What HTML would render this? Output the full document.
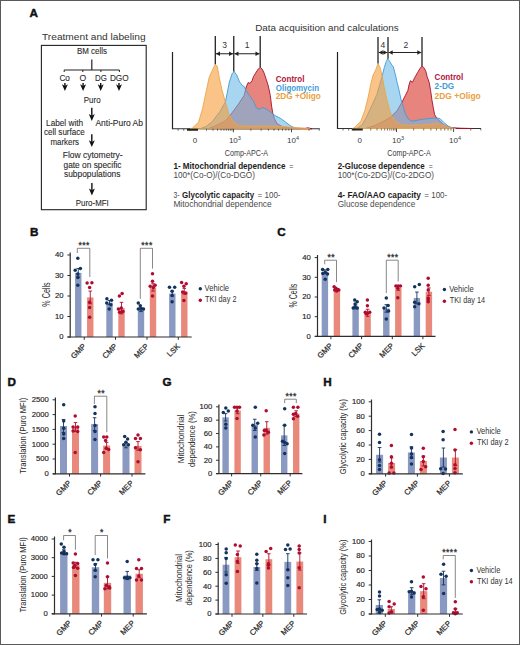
<!DOCTYPE html>
<html><head><meta charset="utf-8"><style>
html,body{margin:0;padding:0;background:#fff;}
svg{display:block;font-family:"Liberation Sans", sans-serif;}
</style></head><body>
<svg width="520" height="645" viewBox="0 0 520 645">
<rect x="0" y="0" width="520" height="645" fill="#fff"/>
<text x="29.5" y="16.7" font-size="11.7" text-anchor="start" font-weight="bold" fill="#111" stroke="#111" stroke-width="0.45">A</text>
<text x="93.8" y="39.7" font-size="9.4" text-anchor="middle" font-weight="normal" fill="#333" textLength="103.5" lengthAdjust="spacingAndGlyphs" >Treatment and labeling</text>
<rect x="41.4" y="45.4" width="104.8" height="164.3" fill="none" stroke="#222" stroke-width="1.1"/>
<text x="92" y="54.4" font-size="8.6" text-anchor="middle" font-weight="normal" fill="#2a2a2a" textLength="30" lengthAdjust="spacingAndGlyphs"  stroke="#2a2a2a" stroke-width="0.1">BM cells</text>
<line x1="91.8" y1="59.5" x2="91.8" y2="70" stroke="#222" stroke-width="1.2" />
<line x1="64.2" y1="70" x2="119.4" y2="70" stroke="#222" stroke-width="1.2" />
<line x1="64.2" y1="70" x2="64.2" y2="72" stroke="#222" stroke-width="1.0" />
<line x1="82.8" y1="70" x2="82.8" y2="72" stroke="#222" stroke-width="1.0" />
<line x1="100.9" y1="70" x2="100.9" y2="72" stroke="#222" stroke-width="1.0" />
<line x1="119.4" y1="70" x2="119.4" y2="72" stroke="#222" stroke-width="1.0" />
<text x="64.7" y="81" font-size="8.6" text-anchor="middle" font-weight="normal" fill="#2a2a2a" textLength="10.5" lengthAdjust="spacingAndGlyphs"  stroke="#2a2a2a" stroke-width="0.1">Co</text>
<text x="82.8" y="81" font-size="8.6" text-anchor="middle" font-weight="normal" fill="#2a2a2a"  stroke="#2a2a2a" stroke-width="0.1">O</text>
<text x="101" y="81" font-size="8.6" text-anchor="middle" font-weight="normal" fill="#2a2a2a" textLength="11.8" lengthAdjust="spacingAndGlyphs"  stroke="#2a2a2a" stroke-width="0.1">DG</text>
<text x="119.3" y="81" font-size="8.6" text-anchor="middle" font-weight="normal" fill="#2a2a2a" textLength="18.8" lengthAdjust="spacingAndGlyphs"  stroke="#2a2a2a" stroke-width="0.1">DGO</text>
<line x1="64.9" y1="83" x2="64.9" y2="88.1" stroke="#111" stroke-width="1.4" />
<path d="M61.90,84.30 L64.90,91.10 L67.90,84.30 L64.90,85.90 Z" fill="#111"/>
<line x1="83.1" y1="83" x2="83.1" y2="88.1" stroke="#111" stroke-width="1.4" />
<path d="M80.10,84.30 L83.10,91.10 L86.10,84.30 L83.10,85.90 Z" fill="#111"/>
<line x1="100.7" y1="83" x2="100.7" y2="88.1" stroke="#111" stroke-width="1.4" />
<path d="M97.70,84.30 L100.70,91.10 L103.70,84.30 L100.70,85.90 Z" fill="#111"/>
<line x1="119.0" y1="83" x2="119.0" y2="88.1" stroke="#111" stroke-width="1.4" />
<path d="M116.00,84.30 L119.00,91.10 L122.00,84.30 L119.00,85.90 Z" fill="#111"/>
<text x="92.2" y="102.6" font-size="8.6" text-anchor="middle" font-weight="normal" fill="#2a2a2a" textLength="16.8" lengthAdjust="spacingAndGlyphs"  stroke="#2a2a2a" stroke-width="0.1">Puro</text>
<line x1="91.8" y1="107.8" x2="91.8" y2="117.9" stroke="#111" stroke-width="1.4" />
<path d="M88.80,114.10 L91.80,120.90 L94.80,114.10 L91.80,115.70 Z" fill="#111"/>
<text x="64.6" y="125.6" font-size="8.6" text-anchor="middle" font-weight="normal" fill="#2a2a2a" textLength="37" lengthAdjust="spacingAndGlyphs"  stroke="#2a2a2a" stroke-width="0.1">Label with</text>
<text x="64.4" y="135.3" font-size="8.6" text-anchor="middle" font-weight="normal" fill="#2a2a2a" textLength="40.8" lengthAdjust="spacingAndGlyphs"  stroke="#2a2a2a" stroke-width="0.1">cell surface</text>
<text x="64.7" y="144.7" font-size="8.6" text-anchor="middle" font-weight="normal" fill="#2a2a2a" textLength="28.6" lengthAdjust="spacingAndGlyphs"  stroke="#2a2a2a" stroke-width="0.1">markers</text>
<text x="119.2" y="125.6" font-size="8.6" text-anchor="middle" font-weight="normal" fill="#2a2a2a" textLength="47.5" lengthAdjust="spacingAndGlyphs"  stroke="#2a2a2a" stroke-width="0.1">Anti-Puro Ab</text>
<line x1="91.8" y1="134.3" x2="91.8" y2="144.1" stroke="#111" stroke-width="1.4" />
<path d="M88.80,140.30 L91.80,147.10 L94.80,140.30 L91.80,141.90 Z" fill="#111"/>
<text x="92.7" y="158" font-size="8.6" text-anchor="middle" font-weight="normal" fill="#2a2a2a" textLength="60" lengthAdjust="spacingAndGlyphs"  stroke="#2a2a2a" stroke-width="0.1">Flow cytometry-</text>
<text x="92.5" y="167.7" font-size="8.6" text-anchor="middle" font-weight="normal" fill="#2a2a2a" textLength="58" lengthAdjust="spacingAndGlyphs"  stroke="#2a2a2a" stroke-width="0.1">gate on specific</text>
<text x="92.2" y="177" font-size="8.6" text-anchor="middle" font-weight="normal" fill="#2a2a2a" textLength="56.5" lengthAdjust="spacingAndGlyphs"  stroke="#2a2a2a" stroke-width="0.1">subpopulations</text>
<line x1="91.9" y1="183" x2="91.9" y2="192.4" stroke="#111" stroke-width="1.4" />
<path d="M88.90,188.60 L91.90,195.40 L94.90,188.60 L91.90,190.20 Z" fill="#111"/>
<text x="92.3" y="205.7" font-size="8.6" text-anchor="middle" font-weight="normal" fill="#2a2a2a" textLength="33" lengthAdjust="spacingAndGlyphs"  stroke="#2a2a2a" stroke-width="0.1">Puro-MFI</text>
<text x="327.0" y="31.1" font-size="9.4" text-anchor="middle" font-weight="normal" fill="#333" textLength="143.5" lengthAdjust="spacingAndGlyphs" >Data acquisition and calculations</text>
<line x1="172.5" y1="52" x2="172.5" y2="129.25" stroke="#222" stroke-width="1.2" />
<line x1="172.5" y1="128.75" x2="319.8" y2="128.75" stroke="#333" stroke-width="1.1" />
<path d="M207.9,128.8 L215.0,126.0 L225.4,121.0 L232.0,112.9 L238.8,103.5 L244.2,95.4 L246.1,87.3 L248.1,82.6 L250.1,83.3 L252.1,80.6 L253.5,76.5 L255.5,73.2 L258.2,69.1 L260.2,67.4 L262.2,69.1 L264.2,73.2 L266.2,79.2 L268.3,86.0 L270.3,95.4 L271.6,106.1 L272.7,112.9 L274.3,118.3 L277.0,123.6 L283.0,127.0 L295.0,128.3 L305.0,128.4 L308.0,127.8 L312.0,128.8 Z" fill="rgb(217,50,40)" fill-opacity="0.6" stroke="#a80f2c" stroke-width="0.9" stroke-linejoin="round"/>
<path d="M200.0,128.8 L206.0,126.5 L212.0,122.0 L220.0,111.5 L225.4,102.0 L229.4,82.0 L232.1,73.8 L234.1,71.4 L236.8,75.2 L239.5,81.9 L242.2,85.3 L244.2,86.6 L246.1,90.7 L249.4,95.4 L253.5,101.4 L256.2,107.5 L258.8,109.5 L262.9,107.5 L266.9,109.5 L271.0,112.2 L275.0,115.6 L280.4,118.3 L285.8,122.3 L291.1,126.3 L296.5,128.4 L300.0,128.8 Z" fill="rgb(110,185,230)" fill-opacity="0.6" stroke="#3f9bd6" stroke-width="0.9" stroke-linejoin="round"/>
<path d="M190.0,128.8 L192.4,128.0 L198.5,122.3 L202.5,108.8 L205.9,92.7 L209.2,77.2 L211.9,71.2 L215.3,64.2 L217.3,66.4 L219.3,77.9 L222.0,90.0 L225.4,102.1 L229.4,115.6 L233.5,122.3 L238.8,125.7 L250.0,126.2 L265.0,126.0 L280.0,126.3 L290.0,127.2 L300.0,128.0 L310.0,128.8 Z" fill="rgb(247,155,55)" fill-opacity="0.6" stroke="#eaa64a" stroke-width="0.9" stroke-linejoin="round"/>
<line x1="250.8898427480773" y1="128.75" x2="250.8898427480773" y2="130.75" stroke="#333" stroke-width="0.7" />
<line x1="261.1207448992124" y1="128.75" x2="261.1207448992124" y2="130.75" stroke="#333" stroke-width="0.7" />
<line x1="268.3796854961546" y1="128.75" x2="268.3796854961546" y2="130.75" stroke="#333" stroke-width="0.7" />
<line x1="274.0101572519227" y1="128.75" x2="274.0101572519227" y2="130.75" stroke="#333" stroke-width="0.7" />
<line x1="278.6105876472897" y1="128.75" x2="278.6105876472897" y2="130.75" stroke="#333" stroke-width="0.7" />
<line x1="282.50019612482834" y1="128.75" x2="282.50019612482834" y2="130.75" stroke="#333" stroke-width="0.7" />
<line x1="285.8695282442319" y1="128.75" x2="285.8695282442319" y2="130.75" stroke="#333" stroke-width="0.7" />
<line x1="288.8414897984248" y1="128.75" x2="288.8414897984248" y2="130.75" stroke="#333" stroke-width="0.7" />
<line x1="308.9898427480773" y1="128.75" x2="308.9898427480773" y2="130.75" stroke="#333" stroke-width="0.7" />
<line x1="319.2207448992124" y1="128.75" x2="319.2207448992124" y2="130.75" stroke="#333" stroke-width="0.7" />
<line x1="206.4653780012375" y1="128.75" x2="206.4653780012375" y2="130.75" stroke="#333" stroke-width="0.7" />
<line x1="212.97451469669846" y1="128.75" x2="212.97451469669846" y2="130.75" stroke="#333" stroke-width="0.7" />
<line x1="217.54041087476668" y1="128.75" x2="217.54041087476668" y2="130.75" stroke="#333" stroke-width="0.7" />
<line x1="221.0604235666646" y1="128.75" x2="221.0604235666646" y2="130.75" stroke="#333" stroke-width="0.7" />
<line x1="223.9255146060128" y1="128.75" x2="223.9255146060128" y2="130.75" stroke="#333" stroke-width="0.7" />
<line x1="226.34157683656574" y1="128.75" x2="226.34157683656574" y2="130.75" stroke="#333" stroke-width="0.7" />
<line x1="228.4304728076815" y1="128.75" x2="228.4304728076815" y2="130.75" stroke="#333" stroke-width="0.7" />
<line x1="230.2703324358104" y1="128.75" x2="230.2703324358104" y2="130.75" stroke="#333" stroke-width="0.7" />
<line x1="231.91426038658378" y1="128.75" x2="231.91426038658378" y2="130.75" stroke="#333" stroke-width="0.7" />
<line x1="189.375" y1="128.75" x2="189.375" y2="130.75" stroke="#333" stroke-width="0.7" />
<line x1="183.75" y1="128.75" x2="183.75" y2="130.75" stroke="#333" stroke-width="0.7" />
<line x1="178.125" y1="128.75" x2="178.125" y2="130.75" stroke="#333" stroke-width="0.7" />
<line x1="187" y1="129.75" x2="198" y2="129.75" stroke="#222" stroke-width="2.0" />
<line x1="233.4" y1="128.75" x2="233.4" y2="132.25" stroke="#333" stroke-width="0.9" />
<line x1="291.5" y1="128.75" x2="291.5" y2="132.25" stroke="#333" stroke-width="0.9" />
<text x="195" y="142.8" font-size="8" text-anchor="middle" font-weight="normal" fill="#3a3a3a" >0</text>
<text x="228.9" y="142.8" font-size="8" fill="#3a3a3a">10<tspan font-size="5.5" dy="-3.3">3</tspan></text>
<text x="287.0" y="142.8" font-size="8" fill="#3a3a3a">10<tspan font-size="5.5" dy="-3.3">4</tspan></text>
<text x="246.45" y="156.2" font-size="9.5" text-anchor="middle" font-weight="normal" fill="#3a3a3a" textLength="43.4" lengthAdjust="spacingAndGlyphs" >Comp-APC-A</text>
<line x1="215.3" y1="36" x2="215.3" y2="64.2" stroke="#222" stroke-width="1.3" />
<line x1="233.75" y1="36" x2="233.75" y2="71.4" stroke="#222" stroke-width="1.3" />
<line x1="260.2" y1="36" x2="260.2" y2="67.4" stroke="#222" stroke-width="1.3" />
<line x1="216.0" y1="53.75" x2="233.05" y2="53.75" stroke="#222" stroke-width="1.0" />
<path d="M216.0,53.75 l4,-2.2 l0,4.4 Z" fill="#222"/>
<path d="M233.05,53.75 l-4,-2.2 l0,4.4 Z" fill="#222"/>
<line x1="234.45" y1="53.75" x2="259.5" y2="53.75" stroke="#222" stroke-width="1.0" />
<path d="M234.45,53.75 l4,-2.2 l0,4.4 Z" fill="#222"/>
<path d="M259.5,53.75 l-4,-2.2 l0,4.4 Z" fill="#222"/>
<text x="224.5" y="47.5" font-size="8.5" text-anchor="middle" font-weight="normal" fill="#333" >3</text>
<text x="247" y="47.5" font-size="8.5" text-anchor="middle" font-weight="normal" fill="#333" >1</text>
<text x="275.8" y="81.9" font-size="8.8" text-anchor="start" font-weight="bold" fill="#b3123a" textLength="28.6" lengthAdjust="spacingAndGlyphs" >Control</text>
<text x="275.8" y="90.8" font-size="8.8" text-anchor="start" font-weight="bold" fill="#3f9ed9" textLength="43.2" lengthAdjust="spacingAndGlyphs" >Oligomycin</text>
<text x="275.8" y="98.9" font-size="8.8" text-anchor="start" font-weight="bold" fill="#e9a040" textLength="44.9" lengthAdjust="spacingAndGlyphs" >2DG +Oligo</text>
<line x1="337.5" y1="52" x2="337.5" y2="129.0" stroke="#222" stroke-width="1.2" />
<line x1="337.5" y1="128.5" x2="481" y2="128.5" stroke="#333" stroke-width="1.1" />
<path d="M365.0,128.5 L375.0,125.5 L383.0,121.5 L390.4,117.3 L397.1,110.6 L401.8,102.5 L405.2,95.8 L407.9,90.4 L409.0,85.0 L410.4,80.7 L412.4,82.3 L415.1,76.9 L417.8,72.2 L419.8,68.8 L421.8,66.2 L423.8,67.5 L425.9,71.5 L427.2,76.9 L429.2,82.3 L430.6,90.4 L431.9,99.8 L433.3,107.9 L434.6,114.6 L436.6,118.0 L440.0,121.3 L444.0,125.0 L450.0,127.5 L460.0,128.2 L472.0,128.5 Z" fill="rgb(217,50,40)" fill-opacity="0.6" stroke="#a80f2c" stroke-width="0.9" stroke-linejoin="round"/>
<path d="M357.0,128.5 L362.0,125.0 L366.0,118.0 L370.2,109.2 L376.9,94.4 L381.6,78.3 L384.3,67.5 L386.3,61.4 L387.7,58.7 L389.7,61.4 L391.7,64.8 L393.3,66.8 L395.1,73.6 L397.1,82.3 L399.1,90.4 L401.1,99.8 L403.2,106.5 L405.2,113.3 L407.9,118.6 L411.9,121.3 L418.5,120.0 L427.9,118.6 L437.3,118.0 L440.0,118.6 L444.0,122.7 L448.1,126.0 L452.1,127.8 L456.0,128.5 Z" fill="rgb(110,185,230)" fill-opacity="0.6" stroke="#3f9bd6" stroke-width="0.9" stroke-linejoin="round"/>
<path d="M352.0,128.5 L354.0,128.0 L360.8,121.3 L364.8,110.6 L368.2,97.1 L370.9,83.6 L372.9,75.6 L375.6,70.2 L378.0,63.5 L380.3,68.2 L382.3,76.9 L384.3,87.7 L386.3,97.1 L389.0,107.9 L391.7,116.0 L395.1,121.3 L401.1,124.7 L410.0,125.3 L425.2,124.7 L437.3,123.4 L444.0,125.4 L450.8,127.8 L455.0,128.5 Z" fill="rgb(247,155,55)" fill-opacity="0.6" stroke="#eaa64a" stroke-width="0.9" stroke-linejoin="round"/>
<line x1="413.68881275241336" y1="128.5" x2="413.68881275241336" y2="130.5" stroke="#333" stroke-width="0.7" />
<line x1="423.74362364449274" y1="128.5" x2="423.74362364449274" y2="130.5" stroke="#333" stroke-width="0.7" />
<line x1="430.87762550482665" y1="128.5" x2="430.87762550482665" y2="130.5" stroke="#333" stroke-width="0.7" />
<line x1="436.41118724758667" y1="128.5" x2="436.41118724758667" y2="130.5" stroke="#333" stroke-width="0.7" />
<line x1="440.93243639690604" y1="128.5" x2="440.93243639690604" y2="130.5" stroke="#333" stroke-width="0.7" />
<line x1="444.7550980848141" y1="128.5" x2="444.7550980848141" y2="130.5" stroke="#333" stroke-width="0.7" />
<line x1="448.06643825724" y1="128.5" x2="448.06643825724" y2="130.5" stroke="#333" stroke-width="0.7" />
<line x1="450.9872472889855" y1="128.5" x2="450.9872472889855" y2="130.5" stroke="#333" stroke-width="0.7" />
<line x1="470.7888127524134" y1="128.5" x2="470.7888127524134" y2="130.5" stroke="#333" stroke-width="0.7" />
<line x1="480.84362364449277" y1="128.5" x2="480.84362364449277" y2="130.5" stroke="#333" stroke-width="0.7" />
<line x1="370.75779616264106" y1="128.5" x2="370.75779616264106" y2="130.5" stroke="#333" stroke-width="0.7" />
<line x1="376.9787679523134" y1="128.5" x2="376.9787679523134" y2="130.5" stroke="#333" stroke-width="0.7" />
<line x1="381.34252810166504" y1="128.5" x2="381.34252810166504" y2="130.5" stroke="#333" stroke-width="0.7" />
<line x1="384.7067068983487" y1="128.5" x2="384.7067068983487" y2="130.5" stroke="#333" stroke-width="0.7" />
<line x1="387.4449579698091" y1="128.5" x2="387.4449579698091" y2="130.5" stroke="#333" stroke-width="0.7" />
<line x1="389.7540591120303" y1="128.5" x2="389.7540591120303" y2="130.5" stroke="#333" stroke-width="0.7" />
<line x1="391.7504779177581" y1="128.5" x2="391.7504779177581" y2="130.5" stroke="#333" stroke-width="0.7" />
<line x1="393.5088854269334" y1="128.5" x2="393.5088854269334" y2="130.5" stroke="#333" stroke-width="0.7" />
<line x1="395.08003531738603" y1="128.5" x2="395.08003531738603" y2="130.5" stroke="#333" stroke-width="0.7" />
<line x1="354.225" y1="128.5" x2="354.225" y2="130.5" stroke="#333" stroke-width="0.7" />
<line x1="348.65" y1="128.5" x2="348.65" y2="130.5" stroke="#333" stroke-width="0.7" />
<line x1="343.075" y1="128.5" x2="343.075" y2="130.5" stroke="#333" stroke-width="0.7" />
<line x1="351.8" y1="129.5" x2="362.8" y2="129.5" stroke="#222" stroke-width="2.0" />
<line x1="396.5" y1="128.5" x2="396.5" y2="132.0" stroke="#333" stroke-width="0.9" />
<line x1="453.6" y1="128.5" x2="453.6" y2="132.0" stroke="#333" stroke-width="0.9" />
<text x="359.8" y="142.8" font-size="8" text-anchor="middle" font-weight="normal" fill="#3a3a3a" >0</text>
<text x="392.0" y="142.8" font-size="8" fill="#3a3a3a">10<tspan font-size="5.5" dy="-3.3">3</tspan></text>
<text x="449.1" y="142.8" font-size="8" fill="#3a3a3a">10<tspan font-size="5.5" dy="-3.3">4</tspan></text>
<text x="409.05" y="156.2" font-size="9.5" text-anchor="middle" font-weight="normal" fill="#3a3a3a" textLength="43.4" lengthAdjust="spacingAndGlyphs" >Comp-APC-A</text>
<line x1="378" y1="37" x2="378" y2="63.5" stroke="#222" stroke-width="1.3" />
<line x1="388" y1="37" x2="388" y2="58.7" stroke="#222" stroke-width="1.3" />
<line x1="422" y1="37" x2="422" y2="66.2" stroke="#222" stroke-width="1.3" />
<line x1="378.7" y1="52.5" x2="387.3" y2="52.5" stroke="#222" stroke-width="1.0" />
<path d="M378.7,52.5 l4,-2.2 l0,4.4 Z" fill="#222"/>
<path d="M387.3,52.5 l-4,-2.2 l0,4.4 Z" fill="#222"/>
<line x1="388.7" y1="52.5" x2="421.3" y2="52.5" stroke="#222" stroke-width="1.0" />
<path d="M388.7,52.5 l4,-2.2 l0,4.4 Z" fill="#222"/>
<path d="M421.3,52.5 l-4,-2.2 l0,4.4 Z" fill="#222"/>
<text x="382.8" y="47.5" font-size="8.5" text-anchor="middle" font-weight="normal" fill="#333" >4</text>
<text x="405.75" y="47.5" font-size="8.5" text-anchor="middle" font-weight="normal" fill="#333" >2</text>
<text x="434.6" y="80.4" font-size="8.8" text-anchor="start" font-weight="bold" fill="#b3123a" textLength="28.6" lengthAdjust="spacingAndGlyphs" >Control</text>
<text x="434.6" y="89.0" font-size="8.8" text-anchor="start" font-weight="bold" fill="#3f9ed9" textLength="19.6" lengthAdjust="spacingAndGlyphs" >2-DG</text>
<text x="434.6" y="98.9" font-size="8.8" text-anchor="start" font-weight="bold" fill="#e9a040" textLength="46.1" lengthAdjust="spacingAndGlyphs" >2DG +Oligo</text>
<text x="173.4" y="168.7" font-size="8.4" text-anchor="start" font-weight="bold" fill="#1c1c1c" textLength="112" lengthAdjust="spacingAndGlyphs" >1- Mitochondrial dependence</text>
<text x="289.2" y="168.7" font-size="8.4" text-anchor="start" font-weight="normal" fill="#4a4a4a" textLength="4.1" lengthAdjust="spacingAndGlyphs" >=</text>
<text x="173.4" y="178.1" font-size="8.4" text-anchor="start" font-weight="normal" fill="#4a4a4a" textLength="81.5" lengthAdjust="spacingAndGlyphs" >100*(Co-O)/(Co-DGO)</text>
<text x="173.4" y="197.8" font-size="8.4" text-anchor="start" font-weight="normal" fill="#4a4a4a" textLength="6.0" lengthAdjust="spacingAndGlyphs" >3-</text>
<text x="182.1" y="197.8" font-size="8.4" text-anchor="start" font-weight="bold" fill="#1c1c1c" textLength="72.1" lengthAdjust="spacingAndGlyphs" >Glycolytic capacity</text>
<text x="257.6" y="197.8" font-size="8.4" text-anchor="start" font-weight="normal" fill="#4a4a4a" textLength="22.9" lengthAdjust="spacingAndGlyphs" >= 100-</text>
<text x="173.4" y="207.2" font-size="8.4" text-anchor="start" font-weight="normal" fill="#4a4a4a" textLength="98.3" lengthAdjust="spacingAndGlyphs" >Mitochondrial dependence</text>
<text x="337.7" y="168.7" font-size="8.4" text-anchor="start" font-weight="bold" fill="#1c1c1c" textLength="87" lengthAdjust="spacingAndGlyphs" >2-Glucose dependence</text>
<text x="428.8" y="168.7" font-size="8.4" text-anchor="start" font-weight="normal" fill="#4a4a4a" textLength="4.0" lengthAdjust="spacingAndGlyphs" >=</text>
<text x="337.7" y="178.1" font-size="8.4" text-anchor="start" font-weight="normal" fill="#4a4a4a" textLength="96.4" lengthAdjust="spacingAndGlyphs" >100*(Co-2DG)/(Co-2DGO)</text>
<text x="337.7" y="197.8" font-size="8.4" text-anchor="start" font-weight="bold" fill="#1c1c1c" textLength="83.3" lengthAdjust="spacingAndGlyphs" >4- FAO/AAO capacity</text>
<text x="424.3" y="197.8" font-size="8.4" text-anchor="start" font-weight="normal" fill="#4a4a4a" textLength="22.9" lengthAdjust="spacingAndGlyphs" >= 100-</text>
<text x="337.7" y="207.2" font-size="8.4" text-anchor="start" font-weight="normal" fill="#4a4a4a" textLength="77.6" lengthAdjust="spacingAndGlyphs" >Glucose dependence</text>
<rect x="75.05" y="272.84" width="6.40" height="64.16" fill="#8a99c2" />
<rect x="87.05" y="297.44" width="6.40" height="39.56" fill="#e8897c" />
<rect x="106.30" y="302.56" width="6.40" height="34.44" fill="#8a99c2" />
<rect x="118.30" y="308.10" width="6.40" height="28.90" fill="#e8897c" />
<rect x="137.80" y="309.53" width="6.40" height="27.47" fill="#8a99c2" />
<rect x="149.80" y="287.39" width="6.40" height="49.61" fill="#e8897c" />
<rect x="169.10" y="293.54" width="6.40" height="43.46" fill="#8a99c2" />
<rect x="181.10" y="291.29" width="6.40" height="45.71" fill="#e8897c" />
<line x1="78.25" y1="277.14" x2="78.25" y2="268.53000000000003" stroke="#14325e" stroke-width="0.9" />
<line x1="76.45" y1="268.53000000000003" x2="80.05" y2="268.53000000000003" stroke="#14325e" stroke-width="0.9" />
<line x1="76.45" y1="277.14" x2="80.05" y2="277.14" stroke="#14325e" stroke-width="0.9" />
<circle cx="77.80" cy="258.28" r="1.75" fill="#14325e"/>
<circle cx="75.20" cy="270.17" r="1.75" fill="#14325e"/>
<circle cx="80.40" cy="268.53" r="1.75" fill="#14325e"/>
<circle cx="77.80" cy="277.55" r="1.75" fill="#14325e"/>
<circle cx="77.80" cy="285.34" r="1.75" fill="#14325e"/>
<circle cx="77.80" cy="274.06" r="1.75" fill="#14325e"/>
<line x1="90.25" y1="303.79" x2="90.25" y2="291.08" stroke="#b00c30" stroke-width="0.9" />
<line x1="88.45" y1="291.08" x2="92.05" y2="291.08" stroke="#b00c30" stroke-width="0.9" />
<line x1="88.45" y1="303.79" x2="92.05" y2="303.79" stroke="#b00c30" stroke-width="0.9" />
<circle cx="87.10" cy="282.88" r="1.75" fill="#b00c30"/>
<circle cx="91.90" cy="282.68" r="1.75" fill="#b00c30"/>
<circle cx="89.60" cy="287.60" r="1.75" fill="#b00c30"/>
<circle cx="89.60" cy="302.36" r="1.75" fill="#b00c30"/>
<circle cx="89.60" cy="307.48" r="1.75" fill="#b00c30"/>
<circle cx="89.60" cy="317.32" r="1.75" fill="#b00c30"/>
<line x1="109.5" y1="304.61" x2="109.5" y2="300.51" stroke="#14325e" stroke-width="0.9" />
<line x1="107.7" y1="300.51" x2="111.3" y2="300.51" stroke="#14325e" stroke-width="0.9" />
<line x1="107.7" y1="304.61" x2="111.3" y2="304.61" stroke="#14325e" stroke-width="0.9" />
<circle cx="106.90" cy="298.67" r="1.75" fill="#14325e"/>
<circle cx="111.50" cy="300.31" r="1.75" fill="#14325e"/>
<circle cx="106.70" cy="302.97" r="1.75" fill="#14325e"/>
<circle cx="110.90" cy="304.81" r="1.75" fill="#14325e"/>
<circle cx="109.20" cy="308.92" r="1.75" fill="#14325e"/>
<line x1="121.5" y1="313.835" x2="121.5" y2="302.355" stroke="#b00c30" stroke-width="0.9" />
<line x1="119.7" y1="302.355" x2="123.3" y2="302.355" stroke="#b00c30" stroke-width="0.9" />
<line x1="119.7" y1="313.835" x2="123.3" y2="313.835" stroke="#b00c30" stroke-width="0.9" />
<circle cx="119.40" cy="296.00" r="1.75" fill="#b00c30"/>
<circle cx="122.10" cy="293.54" r="1.75" fill="#b00c30"/>
<circle cx="118.40" cy="309.12" r="1.75" fill="#b00c30"/>
<circle cx="121.30" cy="308.10" r="1.75" fill="#b00c30"/>
<circle cx="123.00" cy="311.58" r="1.75" fill="#b00c30"/>
<circle cx="119.60" cy="312.19" r="1.75" fill="#b00c30"/>
<line x1="141.0" y1="311.58" x2="141.0" y2="307.48" stroke="#14325e" stroke-width="0.9" />
<line x1="139.2" y1="307.48" x2="142.8" y2="307.48" stroke="#14325e" stroke-width="0.9" />
<line x1="139.2" y1="311.58" x2="142.8" y2="311.58" stroke="#14325e" stroke-width="0.9" />
<circle cx="138.30" cy="302.97" r="1.75" fill="#14325e"/>
<circle cx="140.30" cy="305.63" r="1.75" fill="#14325e"/>
<circle cx="138.30" cy="309.12" r="1.75" fill="#14325e"/>
<circle cx="141.00" cy="309.12" r="1.75" fill="#14325e"/>
<circle cx="143.50" cy="309.12" r="1.75" fill="#14325e"/>
<line x1="153.0" y1="291.08" x2="153.0" y2="283.7" stroke="#b00c30" stroke-width="0.9" />
<line x1="151.2" y1="283.7" x2="154.8" y2="283.7" stroke="#b00c30" stroke-width="0.9" />
<line x1="151.2" y1="291.08" x2="154.8" y2="291.08" stroke="#b00c30" stroke-width="0.9" />
<circle cx="152.50" cy="273.66" r="1.75" fill="#b00c30"/>
<circle cx="152.50" cy="281.24" r="1.75" fill="#b00c30"/>
<circle cx="150.20" cy="286.37" r="1.75" fill="#b00c30"/>
<circle cx="155.10" cy="285.13" r="1.75" fill="#b00c30"/>
<circle cx="153.30" cy="287.60" r="1.75" fill="#b00c30"/>
<circle cx="152.50" cy="296.00" r="1.75" fill="#b00c30"/>
<line x1="172.3" y1="296.0" x2="172.3" y2="291.08" stroke="#14325e" stroke-width="0.9" />
<line x1="170.5" y1="291.08" x2="174.10000000000002" y2="291.08" stroke="#14325e" stroke-width="0.9" />
<line x1="170.5" y1="296.0" x2="174.10000000000002" y2="296.0" stroke="#14325e" stroke-width="0.9" />
<circle cx="169.50" cy="287.19" r="1.75" fill="#14325e"/>
<circle cx="174.70" cy="287.19" r="1.75" fill="#14325e"/>
<circle cx="172.10" cy="291.29" r="1.75" fill="#14325e"/>
<circle cx="172.10" cy="295.59" r="1.75" fill="#14325e"/>
<circle cx="172.10" cy="301.74" r="1.75" fill="#14325e"/>
<line x1="184.3" y1="294.155" x2="184.3" y2="288.415" stroke="#b00c30" stroke-width="0.9" />
<line x1="182.5" y1="288.415" x2="186.10000000000002" y2="288.415" stroke="#b00c30" stroke-width="0.9" />
<line x1="182.5" y1="294.155" x2="186.10000000000002" y2="294.155" stroke="#b00c30" stroke-width="0.9" />
<circle cx="181.60" cy="282.47" r="1.75" fill="#b00c30"/>
<circle cx="186.20" cy="283.70" r="1.75" fill="#b00c30"/>
<circle cx="183.90" cy="286.16" r="1.75" fill="#b00c30"/>
<circle cx="182.70" cy="292.11" r="1.75" fill="#b00c30"/>
<circle cx="185.60" cy="293.13" r="1.75" fill="#b00c30"/>
<circle cx="183.90" cy="300.51" r="1.75" fill="#b00c30"/>
<line x1="70.2" y1="252.5" x2="70.2" y2="337.5" stroke="#2e2e2e" stroke-width="1.2" />
<line x1="67.5" y1="337.0" x2="191.7" y2="337.0" stroke="#2e2e2e" stroke-width="1.2" />
<line x1="67.4" y1="337.0" x2="70.2" y2="337.0" stroke="#2e2e2e" stroke-width="1.0" />
<text x="63.6" y="339.3" font-size="7.7" text-anchor="end" font-weight="normal" fill="#222" stroke="#222" stroke-width="0.15">0</text>
<line x1="67.4" y1="316.5" x2="70.2" y2="316.5" stroke="#2e2e2e" stroke-width="1.0" />
<text x="63.6" y="318.8" font-size="7.7" text-anchor="end" font-weight="normal" fill="#222" stroke="#222" stroke-width="0.15">10</text>
<line x1="67.4" y1="296.0" x2="70.2" y2="296.0" stroke="#2e2e2e" stroke-width="1.0" />
<text x="63.6" y="298.3" font-size="7.7" text-anchor="end" font-weight="normal" fill="#222" stroke="#222" stroke-width="0.15">20</text>
<line x1="67.4" y1="275.5" x2="70.2" y2="275.5" stroke="#2e2e2e" stroke-width="1.0" />
<text x="63.6" y="277.8" font-size="7.7" text-anchor="end" font-weight="normal" fill="#222" stroke="#222" stroke-width="0.15">30</text>
<line x1="67.4" y1="255.0" x2="70.2" y2="255.0" stroke="#2e2e2e" stroke-width="1.0" />
<text x="63.6" y="257.3" font-size="7.7" text-anchor="end" font-weight="normal" fill="#222" stroke="#222" stroke-width="0.15">40</text>
<line x1="84.25" y1="337.0" x2="84.25" y2="339.8" stroke="#2e2e2e" stroke-width="1.0" />
<text x="86.45" y="346.80" font-size="7.8" text-anchor="end" fill="#2a2a2a" stroke="#2a2a2a" stroke-width="0.22" transform="rotate(-45 86.45 346.80)">GMP</text>
<line x1="115.5" y1="337.0" x2="115.5" y2="339.8" stroke="#2e2e2e" stroke-width="1.0" />
<text x="117.70" y="346.80" font-size="7.8" text-anchor="end" fill="#2a2a2a" stroke="#2a2a2a" stroke-width="0.22" transform="rotate(-45 117.70 346.80)">CMP</text>
<line x1="147.0" y1="337.0" x2="147.0" y2="339.8" stroke="#2e2e2e" stroke-width="1.0" />
<text x="149.20" y="346.80" font-size="7.8" text-anchor="end" fill="#2a2a2a" stroke="#2a2a2a" stroke-width="0.22" transform="rotate(-45 149.20 346.80)">MEP</text>
<line x1="178.3" y1="337.0" x2="178.3" y2="339.8" stroke="#2e2e2e" stroke-width="1.0" />
<text x="180.50" y="346.80" font-size="7.8" text-anchor="end" fill="#2a2a2a" stroke="#2a2a2a" stroke-width="0.22" transform="rotate(-45 180.50 346.80)">LSK</text>
<polyline points="77.3,253 77.3,248.3 89.8,248.3 89.8,277" fill="none" stroke="#555" stroke-width="0.7"/>
<text x="84.14999999999999" y="247.9" font-size="8.6" text-anchor="middle" font-weight="normal" fill="#333" letter-spacing="0.45" stroke="#333" stroke-width="0.3">***</text>
<polyline points="140.3,298.8 140.3,248.3 152.5,248.3 152.5,268.6" fill="none" stroke="#555" stroke-width="0.7"/>
<text x="147.0" y="247.9" font-size="8.6" text-anchor="middle" font-weight="normal" fill="#333" letter-spacing="0.45" stroke="#333" stroke-width="0.3">***</text>
<text x="49.6" y="294.5" font-size="10.2" text-anchor="middle" fill="#2a2a2a" textLength="24.3" lengthAdjust="spacingAndGlyphs" transform="rotate(-90 49.6 294.5)">% Cells</text>
<circle cx="200.30" cy="288.80" r="1.7" fill="#14325e"/>
<circle cx="200.30" cy="300.20" r="1.7" fill="#b00c30"/>
<text x="204.6" y="290.8" font-size="8.2" text-anchor="start" font-weight="normal" fill="#333" textLength="24.5" lengthAdjust="spacingAndGlyphs" >Vehicle</text>
<text x="205.1" y="302.3" font-size="8.2" text-anchor="start" font-weight="normal" fill="#333" textLength="31.4" lengthAdjust="spacingAndGlyphs" >TKI day 2</text>
<text x="30.0" y="235.6" font-size="11.7" text-anchor="start" font-weight="bold" fill="#111" stroke="#111" stroke-width="0.45">B</text>
<rect x="321.70" y="271.78" width="6.40" height="64.62" fill="#8a99c2" />
<rect x="333.70" y="289.51" width="6.40" height="46.89" fill="#e8897c" />
<rect x="352.40" y="306.85" width="6.40" height="29.55" fill="#8a99c2" />
<rect x="364.40" y="312.76" width="6.40" height="23.64" fill="#e8897c" />
<rect x="383.10" y="308.43" width="6.40" height="27.97" fill="#8a99c2" />
<rect x="395.10" y="287.94" width="6.40" height="48.46" fill="#e8897c" />
<rect x="413.70" y="297.98" width="6.40" height="38.42" fill="#8a99c2" />
<rect x="425.70" y="291.68" width="6.40" height="44.72" fill="#e8897c" />
<line x1="324.9" y1="273.75399999999996" x2="324.9" y2="269.81399999999996" stroke="#14325e" stroke-width="0.9" />
<line x1="323.09999999999997" y1="269.81399999999996" x2="326.7" y2="269.81399999999996" stroke="#14325e" stroke-width="0.9" />
<line x1="323.09999999999997" y1="273.75399999999996" x2="326.7" y2="273.75399999999996" stroke="#14325e" stroke-width="0.9" />
<circle cx="322.60" cy="269.42" r="1.75" fill="#14325e"/>
<circle cx="327.80" cy="269.42" r="1.75" fill="#14325e"/>
<circle cx="322.80" cy="273.56" r="1.75" fill="#14325e"/>
<circle cx="327.50" cy="273.95" r="1.75" fill="#14325e"/>
<circle cx="325.20" cy="272.18" r="1.75" fill="#14325e"/>
<circle cx="325.20" cy="279.27" r="1.75" fill="#14325e"/>
<line x1="336.9" y1="290.49899999999997" x2="336.9" y2="288.529" stroke="#b00c30" stroke-width="0.9" />
<line x1="335.09999999999997" y1="288.529" x2="338.7" y2="288.529" stroke="#b00c30" stroke-width="0.9" />
<line x1="335.09999999999997" y1="290.49899999999997" x2="338.7" y2="290.49899999999997" stroke="#b00c30" stroke-width="0.9" />
<circle cx="334.10" cy="286.76" r="1.75" fill="#b00c30"/>
<circle cx="335.90" cy="288.33" r="1.75" fill="#b00c30"/>
<circle cx="337.60" cy="289.51" r="1.75" fill="#b00c30"/>
<circle cx="334.70" cy="290.10" r="1.75" fill="#b00c30"/>
<circle cx="338.80" cy="290.10" r="1.75" fill="#b00c30"/>
<circle cx="336.50" cy="291.09" r="1.75" fill="#b00c30"/>
<line x1="355.6" y1="308.82" x2="355.6" y2="304.88" stroke="#14325e" stroke-width="0.9" />
<line x1="353.8" y1="304.88" x2="357.40000000000003" y2="304.88" stroke="#14325e" stroke-width="0.9" />
<line x1="353.8" y1="308.82" x2="357.40000000000003" y2="308.82" stroke="#14325e" stroke-width="0.9" />
<circle cx="354.70" cy="299.95" r="1.75" fill="#14325e"/>
<circle cx="357.20" cy="301.73" r="1.75" fill="#14325e"/>
<circle cx="355.10" cy="304.09" r="1.75" fill="#14325e"/>
<circle cx="353.20" cy="308.03" r="1.75" fill="#14325e"/>
<circle cx="357.20" cy="308.03" r="1.75" fill="#14325e"/>
<circle cx="355.10" cy="306.85" r="1.75" fill="#14325e"/>
<line x1="367.6" y1="316.306" x2="367.6" y2="309.214" stroke="#b00c30" stroke-width="0.9" />
<line x1="365.8" y1="309.214" x2="369.40000000000003" y2="309.214" stroke="#b00c30" stroke-width="0.9" />
<line x1="365.8" y1="316.306" x2="369.40000000000003" y2="316.306" stroke="#b00c30" stroke-width="0.9" />
<circle cx="367.40" cy="299.95" r="1.75" fill="#b00c30"/>
<circle cx="367.40" cy="305.67" r="1.75" fill="#b00c30"/>
<circle cx="365.30" cy="312.17" r="1.75" fill="#b00c30"/>
<circle cx="369.70" cy="312.17" r="1.75" fill="#b00c30"/>
<circle cx="367.40" cy="313.15" r="1.75" fill="#b00c30"/>
<circle cx="366.20" cy="313.75" r="1.75" fill="#b00c30"/>
<line x1="386.3" y1="312.169" x2="386.3" y2="304.683" stroke="#14325e" stroke-width="0.9" />
<line x1="384.5" y1="304.683" x2="388.1" y2="304.683" stroke="#14325e" stroke-width="0.9" />
<line x1="384.5" y1="312.169" x2="388.1" y2="312.169" stroke="#14325e" stroke-width="0.9" />
<circle cx="386.30" cy="297.98" r="1.75" fill="#14325e"/>
<circle cx="388.10" cy="305.47" r="1.75" fill="#14325e"/>
<circle cx="384.00" cy="308.03" r="1.75" fill="#14325e"/>
<circle cx="388.60" cy="310.99" r="1.75" fill="#14325e"/>
<circle cx="386.30" cy="319.06" r="1.75" fill="#14325e"/>
<line x1="398.3" y1="290.30199999999996" x2="398.3" y2="285.57399999999996" stroke="#b00c30" stroke-width="0.9" />
<line x1="396.5" y1="285.57399999999996" x2="400.1" y2="285.57399999999996" stroke="#b00c30" stroke-width="0.9" />
<line x1="396.5" y1="290.30199999999996" x2="400.1" y2="290.30199999999996" stroke="#b00c30" stroke-width="0.9" />
<circle cx="395.90" cy="285.97" r="1.75" fill="#b00c30"/>
<circle cx="400.50" cy="285.97" r="1.75" fill="#b00c30"/>
<circle cx="398.20" cy="285.97" r="1.75" fill="#b00c30"/>
<circle cx="397.80" cy="288.33" r="1.75" fill="#b00c30"/>
<circle cx="397.80" cy="297.79" r="1.75" fill="#b00c30"/>
<line x1="416.9" y1="303.895" x2="416.9" y2="292.075" stroke="#14325e" stroke-width="0.9" />
<line x1="415.09999999999997" y1="292.075" x2="418.7" y2="292.075" stroke="#14325e" stroke-width="0.9" />
<line x1="415.09999999999997" y1="303.895" x2="418.7" y2="303.895" stroke="#14325e" stroke-width="0.9" />
<circle cx="414.70" cy="286.76" r="1.75" fill="#14325e"/>
<circle cx="419.30" cy="284.39" r="1.75" fill="#14325e"/>
<circle cx="414.70" cy="302.32" r="1.75" fill="#14325e"/>
<circle cx="418.90" cy="303.70" r="1.75" fill="#14325e"/>
<circle cx="414.70" cy="306.85" r="1.75" fill="#14325e"/>
<line x1="428.9" y1="295.424" x2="428.9" y2="287.938" stroke="#b00c30" stroke-width="0.9" />
<line x1="427.09999999999997" y1="287.938" x2="430.7" y2="287.938" stroke="#b00c30" stroke-width="0.9" />
<line x1="427.09999999999997" y1="295.424" x2="430.7" y2="295.424" stroke="#b00c30" stroke-width="0.9" />
<circle cx="428.20" cy="278.28" r="1.75" fill="#b00c30"/>
<circle cx="428.20" cy="285.18" r="1.75" fill="#b00c30"/>
<circle cx="428.20" cy="290.10" r="1.75" fill="#b00c30"/>
<circle cx="428.20" cy="297.98" r="1.75" fill="#b00c30"/>
<circle cx="428.20" cy="299.76" r="1.75" fill="#b00c30"/>
<circle cx="428.20" cy="301.73" r="1.75" fill="#b00c30"/>
<line x1="317.5" y1="255.0" x2="317.5" y2="336.9" stroke="#2e2e2e" stroke-width="1.2" />
<line x1="314.8" y1="336.4" x2="435.5" y2="336.4" stroke="#2e2e2e" stroke-width="1.2" />
<line x1="314.7" y1="336.4" x2="317.5" y2="336.4" stroke="#2e2e2e" stroke-width="1.0" />
<text x="310.9" y="338.7" font-size="7.7" text-anchor="end" font-weight="normal" fill="#222" stroke="#222" stroke-width="0.15">0</text>
<line x1="314.7" y1="316.7" x2="317.5" y2="316.7" stroke="#2e2e2e" stroke-width="1.0" />
<text x="310.9" y="319.0" font-size="7.7" text-anchor="end" font-weight="normal" fill="#222" stroke="#222" stroke-width="0.15">10</text>
<line x1="314.7" y1="297.0" x2="317.5" y2="297.0" stroke="#2e2e2e" stroke-width="1.0" />
<text x="310.9" y="299.3" font-size="7.7" text-anchor="end" font-weight="normal" fill="#222" stroke="#222" stroke-width="0.15">20</text>
<line x1="314.7" y1="277.29999999999995" x2="317.5" y2="277.29999999999995" stroke="#2e2e2e" stroke-width="1.0" />
<text x="310.9" y="279.59999999999997" font-size="7.7" text-anchor="end" font-weight="normal" fill="#222" stroke="#222" stroke-width="0.15">30</text>
<line x1="314.7" y1="257.59999999999997" x2="317.5" y2="257.59999999999997" stroke="#2e2e2e" stroke-width="1.0" />
<text x="310.9" y="259.9" font-size="7.7" text-anchor="end" font-weight="normal" fill="#222" stroke="#222" stroke-width="0.15">40</text>
<line x1="330.9" y1="336.4" x2="330.9" y2="339.2" stroke="#2e2e2e" stroke-width="1.0" />
<text x="333.10" y="346.20" font-size="7.8" text-anchor="end" fill="#2a2a2a" stroke="#2a2a2a" stroke-width="0.22" transform="rotate(-45 333.10 346.20)">GMP</text>
<line x1="361.6" y1="336.4" x2="361.6" y2="339.2" stroke="#2e2e2e" stroke-width="1.0" />
<text x="363.80" y="346.20" font-size="7.8" text-anchor="end" fill="#2a2a2a" stroke="#2a2a2a" stroke-width="0.22" transform="rotate(-45 363.80 346.20)">CMP</text>
<line x1="392.3" y1="336.4" x2="392.3" y2="339.2" stroke="#2e2e2e" stroke-width="1.0" />
<text x="394.50" y="346.20" font-size="7.8" text-anchor="end" fill="#2a2a2a" stroke="#2a2a2a" stroke-width="0.22" transform="rotate(-45 394.50 346.20)">MEP</text>
<line x1="422.9" y1="336.4" x2="422.9" y2="339.2" stroke="#2e2e2e" stroke-width="1.0" />
<text x="425.10" y="346.20" font-size="7.8" text-anchor="end" fill="#2a2a2a" stroke="#2a2a2a" stroke-width="0.22" transform="rotate(-45 425.10 346.20)">LSK</text>
<polyline points="324.7,264.2 324.7,260.2 336.5,260.2 336.5,282.1" fill="none" stroke="#555" stroke-width="0.7"/>
<text x="331.20000000000005" y="259.8" font-size="8.6" text-anchor="middle" font-weight="normal" fill="#333" letter-spacing="0.45" stroke="#333" stroke-width="0.3">**</text>
<polyline points="386.3,293 386.3,260.2 398.2,260.2 398.2,281.5" fill="none" stroke="#555" stroke-width="0.7"/>
<text x="392.85" y="259.8" font-size="8.6" text-anchor="middle" font-weight="normal" fill="#333" letter-spacing="0.45" stroke="#333" stroke-width="0.3">***</text>
<text x="296.7" y="295.6" font-size="10.2" text-anchor="middle" fill="#2a2a2a" textLength="23.9" lengthAdjust="spacingAndGlyphs" transform="rotate(-90 296.7 295.6)">% Cells</text>
<circle cx="444.40" cy="289.50" r="1.7" fill="#14325e"/>
<circle cx="444.40" cy="301.30" r="1.7" fill="#b00c30"/>
<text x="449.2" y="291.9" font-size="8.2" text-anchor="start" font-weight="normal" fill="#333" textLength="24.5" lengthAdjust="spacingAndGlyphs" >Vehicle</text>
<text x="449.8" y="303.0" font-size="8.2" text-anchor="start" font-weight="normal" fill="#333" textLength="35.2" lengthAdjust="spacingAndGlyphs" >TKI day 14</text>
<text x="277.2" y="235.6" font-size="11.7" text-anchor="start" font-weight="bold" fill="#111" stroke="#111" stroke-width="0.45">C</text>
<rect x="60.00" y="426.00" width="7.00" height="47.80" fill="#8a99c2" />
<rect x="72.00" y="427.03" width="7.00" height="46.77" fill="#e8897c" />
<rect x="91.10" y="424.10" width="7.00" height="49.70" fill="#8a99c2" />
<rect x="103.10" y="445.59" width="7.00" height="28.21" fill="#e8897c" />
<rect x="122.50" y="445.30" width="7.00" height="28.50" fill="#8a99c2" />
<rect x="134.50" y="445.92" width="7.00" height="27.88" fill="#e8897c" />
<line x1="63.5" y1="432.50800000000004" x2="63.5" y2="419.48400000000004" stroke="#14325e" stroke-width="0.9" />
<line x1="61.7" y1="419.48400000000004" x2="65.3" y2="419.48400000000004" stroke="#14325e" stroke-width="0.9" />
<line x1="61.7" y1="432.50800000000004" x2="65.3" y2="432.50800000000004" stroke="#14325e" stroke-width="0.9" />
<circle cx="63.70" cy="404.68" r="1.75" fill="#14325e"/>
<circle cx="63.70" cy="420.99" r="1.75" fill="#14325e"/>
<circle cx="63.70" cy="428.22" r="1.75" fill="#14325e"/>
<circle cx="63.70" cy="433.99" r="1.75" fill="#14325e"/>
<circle cx="63.70" cy="438.61" r="1.75" fill="#14325e"/>
<line x1="75.5" y1="431.472" x2="75.5" y2="422.592" stroke="#b00c30" stroke-width="0.9" />
<line x1="73.7" y1="422.592" x2="77.3" y2="422.592" stroke="#b00c30" stroke-width="0.9" />
<line x1="73.7" y1="431.472" x2="77.3" y2="431.472" stroke="#b00c30" stroke-width="0.9" />
<circle cx="75.20" cy="416.08" r="1.75" fill="#b00c30"/>
<circle cx="73.10" cy="427.00" r="1.75" fill="#b00c30"/>
<circle cx="77.70" cy="427.00" r="1.75" fill="#b00c30"/>
<circle cx="73.10" cy="430.88" r="1.75" fill="#b00c30"/>
<circle cx="77.70" cy="431.47" r="1.75" fill="#b00c30"/>
<circle cx="75.20" cy="452.61" r="1.75" fill="#b00c30"/>
<line x1="94.6" y1="430.4952" x2="94.6" y2="417.708" stroke="#14325e" stroke-width="0.9" />
<line x1="92.8" y1="417.708" x2="96.39999999999999" y2="417.708" stroke="#14325e" stroke-width="0.9" />
<line x1="92.8" y1="430.4952" x2="96.39999999999999" y2="430.4952" stroke="#14325e" stroke-width="0.9" />
<circle cx="95.00" cy="406.82" r="1.75" fill="#14325e"/>
<circle cx="95.00" cy="413.59" r="1.75" fill="#14325e"/>
<circle cx="95.00" cy="425.40" r="1.75" fill="#14325e"/>
<circle cx="95.00" cy="431.59" r="1.75" fill="#14325e"/>
<circle cx="95.00" cy="439.61" r="1.75" fill="#14325e"/>
<line x1="106.6" y1="448.8472" x2="106.6" y2="442.3352" stroke="#b00c30" stroke-width="0.9" />
<line x1="104.8" y1="442.3352" x2="108.39999999999999" y2="442.3352" stroke="#b00c30" stroke-width="0.9" />
<line x1="104.8" y1="448.8472" x2="108.39999999999999" y2="448.8472" stroke="#b00c30" stroke-width="0.9" />
<circle cx="103.70" cy="437.10" r="1.75" fill="#b00c30"/>
<circle cx="106.80" cy="437.10" r="1.75" fill="#b00c30"/>
<circle cx="105.60" cy="440.59" r="1.75" fill="#b00c30"/>
<circle cx="108.70" cy="449.50" r="1.75" fill="#b00c30"/>
<circle cx="106.20" cy="448.28" r="1.75" fill="#b00c30"/>
<circle cx="103.70" cy="452.61" r="1.75" fill="#b00c30"/>
<line x1="126.0" y1="447.7816" x2="126.0" y2="442.8088" stroke="#14325e" stroke-width="0.9" />
<line x1="124.2" y1="442.8088" x2="127.8" y2="442.8088" stroke="#14325e" stroke-width="0.9" />
<line x1="124.2" y1="447.7816" x2="127.8" y2="447.7816" stroke="#14325e" stroke-width="0.9" />
<circle cx="124.70" cy="436.39" r="1.75" fill="#14325e"/>
<circle cx="127.60" cy="439.11" r="1.75" fill="#14325e"/>
<circle cx="125.90" cy="442.19" r="1.75" fill="#14325e"/>
<circle cx="123.70" cy="444.70" r="1.75" fill="#14325e"/>
<circle cx="128.40" cy="444.70" r="1.75" fill="#14325e"/>
<line x1="138.0" y1="450.2384" x2="138.0" y2="441.59520000000003" stroke="#b00c30" stroke-width="0.9" />
<line x1="136.2" y1="441.59520000000003" x2="139.8" y2="441.59520000000003" stroke="#b00c30" stroke-width="0.9" />
<line x1="136.2" y1="450.2384" x2="139.8" y2="450.2384" stroke="#b00c30" stroke-width="0.9" />
<circle cx="138.00" cy="434.99" r="1.75" fill="#b00c30"/>
<circle cx="135.50" cy="438.49" r="1.75" fill="#b00c30"/>
<circle cx="140.40" cy="438.49" r="1.75" fill="#b00c30"/>
<circle cx="135.50" cy="447.81" r="1.75" fill="#b00c30"/>
<circle cx="140.40" cy="449.71" r="1.75" fill="#b00c30"/>
<circle cx="138.00" cy="461.81" r="1.75" fill="#b00c30"/>
<line x1="55.4" y1="397.5" x2="55.4" y2="474.3" stroke="#2e2e2e" stroke-width="1.2" />
<line x1="52.699999999999996" y1="473.8" x2="145.4" y2="473.8" stroke="#2e2e2e" stroke-width="1.2" />
<line x1="52.6" y1="473.8" x2="55.4" y2="473.8" stroke="#2e2e2e" stroke-width="1.0" />
<text x="48.8" y="476.1" font-size="7.7" text-anchor="end" font-weight="normal" fill="#222" stroke="#222" stroke-width="0.15">0</text>
<line x1="52.6" y1="459.0" x2="55.4" y2="459.0" stroke="#2e2e2e" stroke-width="1.0" />
<text x="48.8" y="461.3" font-size="7.7" text-anchor="end" font-weight="normal" fill="#222" stroke="#222" stroke-width="0.15">500</text>
<line x1="52.6" y1="444.2" x2="55.4" y2="444.2" stroke="#2e2e2e" stroke-width="1.0" />
<text x="48.8" y="446.5" font-size="7.7" text-anchor="end" font-weight="normal" fill="#222" stroke="#222" stroke-width="0.15">1000</text>
<line x1="52.6" y1="429.40000000000003" x2="55.4" y2="429.40000000000003" stroke="#2e2e2e" stroke-width="1.0" />
<text x="48.8" y="431.70000000000005" font-size="7.7" text-anchor="end" font-weight="normal" fill="#222" stroke="#222" stroke-width="0.15">1500</text>
<line x1="52.6" y1="414.6" x2="55.4" y2="414.6" stroke="#2e2e2e" stroke-width="1.0" />
<text x="48.8" y="416.90000000000003" font-size="7.7" text-anchor="end" font-weight="normal" fill="#222" stroke="#222" stroke-width="0.15">2000</text>
<line x1="52.6" y1="399.8" x2="55.4" y2="399.8" stroke="#2e2e2e" stroke-width="1.0" />
<text x="48.8" y="402.1" font-size="7.7" text-anchor="end" font-weight="normal" fill="#222" stroke="#222" stroke-width="0.15">2500</text>
<line x1="69.5" y1="473.8" x2="69.5" y2="476.6" stroke="#2e2e2e" stroke-width="1.0" />
<text x="71.70" y="483.60" font-size="7.8" text-anchor="end" fill="#2a2a2a" stroke="#2a2a2a" stroke-width="0.22" transform="rotate(-45 71.70 483.60)">GMP</text>
<line x1="100.6" y1="473.8" x2="100.6" y2="476.6" stroke="#2e2e2e" stroke-width="1.0" />
<text x="102.80" y="483.60" font-size="7.8" text-anchor="end" fill="#2a2a2a" stroke="#2a2a2a" stroke-width="0.22" transform="rotate(-45 102.80 483.60)">CMP</text>
<line x1="132.0" y1="473.8" x2="132.0" y2="476.6" stroke="#2e2e2e" stroke-width="1.0" />
<text x="134.20" y="483.60" font-size="7.8" text-anchor="end" fill="#2a2a2a" stroke="#2a2a2a" stroke-width="0.22" transform="rotate(-45 134.20 483.60)">MEP</text>
<polyline points="94.4,404 94.4,396.2 106.8,396.2 106.8,432.2" fill="none" stroke="#555" stroke-width="0.7"/>
<text x="101.19999999999999" y="395.8" font-size="8.6" text-anchor="middle" font-weight="normal" fill="#333" letter-spacing="0.45" stroke="#333" stroke-width="0.3">**</text>
<text x="26.2" y="435.7" font-size="9.2" text-anchor="middle" fill="#2a2a2a" textLength="76" lengthAdjust="spacingAndGlyphs" transform="rotate(-90 26.2 435.7)">Translation (Puro MFI)</text>
<text x="7.6" y="385.8" font-size="11.7" text-anchor="start" font-weight="bold" fill="#111" stroke="#111" stroke-width="0.45">D</text>
<rect x="222.40" y="417.29" width="6.40" height="56.31" fill="#8a99c2" />
<rect x="234.40" y="410.47" width="6.40" height="63.13" fill="#e8897c" />
<rect x="251.55" y="424.84" width="6.40" height="48.76" fill="#8a99c2" />
<rect x="263.55" y="427.91" width="6.40" height="45.69" fill="#e8897c" />
<rect x="281.00" y="435.39" width="6.40" height="38.21" fill="#8a99c2" />
<rect x="293.00" y="413.68" width="6.40" height="59.92" fill="#e8897c" />
<line x1="225.6" y1="420.96160000000003" x2="225.6" y2="413.6136" stroke="#14325e" stroke-width="0.9" />
<line x1="223.79999999999998" y1="413.6136" x2="227.4" y2="413.6136" stroke="#14325e" stroke-width="0.9" />
<line x1="223.79999999999998" y1="420.96160000000003" x2="227.4" y2="420.96160000000003" stroke="#14325e" stroke-width="0.9" />
<circle cx="225.80" cy="408.00" r="1.75" fill="#14325e"/>
<circle cx="223.30" cy="412.41" r="1.75" fill="#14325e"/>
<circle cx="228.30" cy="411.08" r="1.75" fill="#14325e"/>
<circle cx="225.80" cy="424.17" r="1.75" fill="#14325e"/>
<circle cx="225.80" cy="427.91" r="1.75" fill="#14325e"/>
<line x1="237.6" y1="413.7472" x2="237.6" y2="407.2008" stroke="#b00c30" stroke-width="0.9" />
<line x1="235.79999999999998" y1="407.2008" x2="239.4" y2="407.2008" stroke="#b00c30" stroke-width="0.9" />
<line x1="235.79999999999998" y1="413.7472" x2="239.4" y2="413.7472" stroke="#b00c30" stroke-width="0.9" />
<circle cx="234.50" cy="407.20" r="1.75" fill="#b00c30"/>
<circle cx="237.00" cy="407.20" r="1.75" fill="#b00c30"/>
<circle cx="239.50" cy="407.20" r="1.75" fill="#b00c30"/>
<circle cx="237.00" cy="411.08" r="1.75" fill="#b00c30"/>
<circle cx="237.00" cy="418.62" r="1.75" fill="#b00c30"/>
<line x1="254.75" y1="430.4472" x2="254.75" y2="419.2248" stroke="#14325e" stroke-width="0.9" />
<line x1="252.95" y1="419.2248" x2="256.55" y2="419.2248" stroke="#14325e" stroke-width="0.9" />
<line x1="252.95" y1="430.4472" x2="256.55" y2="430.4472" stroke="#14325e" stroke-width="0.9" />
<circle cx="255.30" cy="407.20" r="1.75" fill="#14325e"/>
<circle cx="252.80" cy="425.37" r="1.75" fill="#14325e"/>
<circle cx="257.70" cy="423.30" r="1.75" fill="#14325e"/>
<circle cx="255.30" cy="427.91" r="1.75" fill="#14325e"/>
<circle cx="255.30" cy="436.99" r="1.75" fill="#14325e"/>
<line x1="266.75" y1="434.12120000000004" x2="266.75" y2="421.69640000000004" stroke="#b00c30" stroke-width="0.9" />
<line x1="264.95" y1="421.69640000000004" x2="268.55" y2="421.69640000000004" stroke="#b00c30" stroke-width="0.9" />
<line x1="264.95" y1="434.12120000000004" x2="268.55" y2="434.12120000000004" stroke="#b00c30" stroke-width="0.9" />
<circle cx="266.20" cy="410.87" r="1.75" fill="#b00c30"/>
<circle cx="264.30" cy="430.38" r="1.75" fill="#b00c30"/>
<circle cx="268.40" cy="432.18" r="1.75" fill="#b00c30"/>
<circle cx="263.90" cy="434.99" r="1.75" fill="#b00c30"/>
<circle cx="266.20" cy="430.18" r="1.75" fill="#b00c30"/>
<line x1="284.2" y1="445.47720000000004" x2="284.2" y2="425.3036" stroke="#14325e" stroke-width="0.9" />
<line x1="282.4" y1="425.3036" x2="286.0" y2="425.3036" stroke="#14325e" stroke-width="0.9" />
<line x1="282.4" y1="445.47720000000004" x2="286.0" y2="445.47720000000004" stroke="#14325e" stroke-width="0.9" />
<circle cx="284.70" cy="408.67" r="1.75" fill="#14325e"/>
<circle cx="284.70" cy="425.30" r="1.75" fill="#14325e"/>
<circle cx="282.50" cy="441.27" r="1.75" fill="#14325e"/>
<circle cx="287.10" cy="443.67" r="1.75" fill="#14325e"/>
<circle cx="284.70" cy="453.43" r="1.75" fill="#14325e"/>
<circle cx="284.70" cy="442.47" r="1.75" fill="#14325e"/>
<line x1="296.2" y1="416.55280000000005" x2="296.2" y2="410.80800000000005" stroke="#b00c30" stroke-width="0.9" />
<line x1="294.4" y1="410.80800000000005" x2="298.0" y2="410.80800000000005" stroke="#b00c30" stroke-width="0.9" />
<line x1="294.4" y1="416.55280000000005" x2="298.0" y2="416.55280000000005" stroke="#b00c30" stroke-width="0.9" />
<circle cx="293.40" cy="407.13" r="1.75" fill="#b00c30"/>
<circle cx="297.90" cy="407.13" r="1.75" fill="#b00c30"/>
<circle cx="293.40" cy="414.28" r="1.75" fill="#b00c30"/>
<circle cx="297.60" cy="416.29" r="1.75" fill="#b00c30"/>
<circle cx="293.40" cy="418.69" r="1.75" fill="#b00c30"/>
<circle cx="295.70" cy="413.48" r="1.75" fill="#b00c30"/>
<line x1="218.9" y1="404.5" x2="218.9" y2="474.1" stroke="#2e2e2e" stroke-width="1.2" />
<line x1="216.20000000000002" y1="473.6" x2="302.4" y2="473.6" stroke="#2e2e2e" stroke-width="1.2" />
<line x1="216.1" y1="473.6" x2="218.9" y2="473.6" stroke="#2e2e2e" stroke-width="1.0" />
<text x="212.3" y="475.90000000000003" font-size="7.7" text-anchor="end" font-weight="normal" fill="#222" stroke="#222" stroke-width="0.15">0</text>
<line x1="216.1" y1="460.24" x2="218.9" y2="460.24" stroke="#2e2e2e" stroke-width="1.0" />
<text x="212.3" y="462.54" font-size="7.7" text-anchor="end" font-weight="normal" fill="#222" stroke="#222" stroke-width="0.15">20</text>
<line x1="216.1" y1="446.88" x2="218.9" y2="446.88" stroke="#2e2e2e" stroke-width="1.0" />
<text x="212.3" y="449.18" font-size="7.7" text-anchor="end" font-weight="normal" fill="#222" stroke="#222" stroke-width="0.15">40</text>
<line x1="216.1" y1="433.52000000000004" x2="218.9" y2="433.52000000000004" stroke="#2e2e2e" stroke-width="1.0" />
<text x="212.3" y="435.82000000000005" font-size="7.7" text-anchor="end" font-weight="normal" fill="#222" stroke="#222" stroke-width="0.15">60</text>
<line x1="216.1" y1="420.16" x2="218.9" y2="420.16" stroke="#2e2e2e" stroke-width="1.0" />
<text x="212.3" y="422.46000000000004" font-size="7.7" text-anchor="end" font-weight="normal" fill="#222" stroke="#222" stroke-width="0.15">80</text>
<line x1="216.1" y1="406.8" x2="218.9" y2="406.8" stroke="#2e2e2e" stroke-width="1.0" />
<text x="212.3" y="409.1" font-size="7.7" text-anchor="end" font-weight="normal" fill="#222" stroke="#222" stroke-width="0.15">100</text>
<line x1="231.6" y1="473.6" x2="231.6" y2="476.40000000000003" stroke="#2e2e2e" stroke-width="1.0" />
<text x="233.80" y="483.40" font-size="7.8" text-anchor="end" fill="#2a2a2a" stroke="#2a2a2a" stroke-width="0.22" transform="rotate(-45 233.80 483.40)">GMP</text>
<line x1="260.75" y1="473.6" x2="260.75" y2="476.40000000000003" stroke="#2e2e2e" stroke-width="1.0" />
<text x="262.95" y="483.40" font-size="7.8" text-anchor="end" fill="#2a2a2a" stroke="#2a2a2a" stroke-width="0.22" transform="rotate(-45 262.95 483.40)">CMP</text>
<line x1="290.2" y1="473.6" x2="290.2" y2="476.40000000000003" stroke="#2e2e2e" stroke-width="1.0" />
<text x="292.40" y="483.40" font-size="7.8" text-anchor="end" fill="#2a2a2a" stroke="#2a2a2a" stroke-width="0.22" transform="rotate(-45 292.40 483.40)">MEP</text>
<polyline points="284.7,403.2 284.7,399.2 296.3,399.2 296.3,403.2" fill="none" stroke="#555" stroke-width="0.7"/>
<text x="291.1" y="398.8" font-size="8.6" text-anchor="middle" font-weight="normal" fill="#333" letter-spacing="0.45" stroke="#333" stroke-width="0.3">***</text>
<text x="184.4" y="439" font-size="9.5" text-anchor="middle" fill="#2a2a2a" textLength="48.7" lengthAdjust="spacingAndGlyphs" transform="rotate(-90 184.4 439)">Mitochondrial</text>
<text x="195.3" y="439.1" font-size="9.5" text-anchor="middle" fill="#2a2a2a" textLength="55.8" lengthAdjust="spacingAndGlyphs" transform="rotate(-90 195.3 439.1)">dependence (%)</text>
<text x="162.5" y="385.8" font-size="11.7" text-anchor="start" font-weight="bold" fill="#111" stroke="#111" stroke-width="0.45">G</text>
<rect x="376.10" y="454.79" width="7.00" height="19.01" fill="#8a99c2" />
<rect x="388.10" y="462.93" width="7.00" height="10.87" fill="#e8897c" />
<rect x="407.90" y="452.49" width="7.00" height="21.31" fill="#8a99c2" />
<rect x="419.90" y="460.98" width="7.00" height="12.82" fill="#e8897c" />
<rect x="439.90" y="457.53" width="7.00" height="16.27" fill="#8a99c2" />
<rect x="451.90" y="457.53" width="7.00" height="16.27" fill="#e8897c" />
<line x1="379.6" y1="462.064" x2="379.6" y2="447.52000000000004" stroke="#14325e" stroke-width="0.9" />
<line x1="377.8" y1="447.52000000000004" x2="381.40000000000003" y2="447.52000000000004" stroke="#14325e" stroke-width="0.9" />
<line x1="377.8" y1="462.064" x2="381.40000000000003" y2="462.064" stroke="#14325e" stroke-width="0.9" />
<circle cx="379.50" cy="434.13" r="1.75" fill="#14325e"/>
<circle cx="379.50" cy="442.48" r="1.75" fill="#14325e"/>
<circle cx="379.50" cy="459.83" r="1.75" fill="#14325e"/>
<circle cx="379.50" cy="465.59" r="1.75" fill="#14325e"/>
<circle cx="379.50" cy="469.41" r="1.75" fill="#14325e"/>
<line x1="391.6" y1="467.896" x2="391.6" y2="457.96000000000004" stroke="#b00c30" stroke-width="0.9" />
<line x1="389.8" y1="457.96000000000004" x2="393.40000000000003" y2="457.96000000000004" stroke="#b00c30" stroke-width="0.9" />
<line x1="389.8" y1="467.896" x2="393.40000000000003" y2="467.896" stroke="#b00c30" stroke-width="0.9" />
<circle cx="391.40" cy="445.58" r="1.75" fill="#b00c30"/>
<circle cx="391.40" cy="456.66" r="1.75" fill="#b00c30"/>
<circle cx="391.40" cy="463.29" r="1.75" fill="#b00c30"/>
<circle cx="389.10" cy="473.08" r="1.75" fill="#b00c30"/>
<circle cx="393.90" cy="473.08" r="1.75" fill="#b00c30"/>
<circle cx="391.40" cy="466.96" r="1.75" fill="#b00c30"/>
<line x1="411.4" y1="458.176" x2="411.4" y2="446.8" stroke="#14325e" stroke-width="0.9" />
<line x1="409.59999999999997" y1="446.8" x2="413.2" y2="446.8" stroke="#14325e" stroke-width="0.9" />
<line x1="409.59999999999997" y1="458.176" x2="413.2" y2="458.176" stroke="#14325e" stroke-width="0.9" />
<circle cx="411.50" cy="434.42" r="1.75" fill="#14325e"/>
<circle cx="411.50" cy="447.88" r="1.75" fill="#14325e"/>
<circle cx="411.50" cy="454.00" r="1.75" fill="#14325e"/>
<circle cx="411.50" cy="457.53" r="1.75" fill="#14325e"/>
<circle cx="411.50" cy="464.08" r="1.75" fill="#14325e"/>
<line x1="423.4" y1="465.952" x2="423.4" y2="456.016" stroke="#b00c30" stroke-width="0.9" />
<line x1="421.59999999999997" y1="456.016" x2="425.2" y2="456.016" stroke="#b00c30" stroke-width="0.9" />
<line x1="421.59999999999997" y1="465.952" x2="425.2" y2="465.952" stroke="#b00c30" stroke-width="0.9" />
<circle cx="423.30" cy="448.31" r="1.75" fill="#b00c30"/>
<circle cx="423.30" cy="456.66" r="1.75" fill="#b00c30"/>
<circle cx="425.70" cy="466.67" r="1.75" fill="#b00c30"/>
<circle cx="421.00" cy="469.62" r="1.75" fill="#b00c30"/>
<circle cx="423.30" cy="461.56" r="1.75" fill="#b00c30"/>
<line x1="443.4" y1="467.032" x2="443.4" y2="448.024" stroke="#14325e" stroke-width="0.9" />
<line x1="441.59999999999997" y1="448.024" x2="445.2" y2="448.024" stroke="#14325e" stroke-width="0.9" />
<line x1="441.59999999999997" y1="467.032" x2="445.2" y2="467.032" stroke="#14325e" stroke-width="0.9" />
<circle cx="443.10" cy="431.46" r="1.75" fill="#14325e"/>
<circle cx="443.10" cy="439.82" r="1.75" fill="#14325e"/>
<circle cx="440.70" cy="468.83" r="1.75" fill="#14325e"/>
<circle cx="445.50" cy="469.05" r="1.75" fill="#14325e"/>
<circle cx="443.10" cy="473.44" r="1.75" fill="#14325e"/>
<line x1="455.4" y1="465.592" x2="455.4" y2="449.464" stroke="#b00c30" stroke-width="0.9" />
<line x1="453.59999999999997" y1="449.464" x2="457.2" y2="449.464" stroke="#b00c30" stroke-width="0.9" />
<line x1="453.59999999999997" y1="465.592" x2="457.2" y2="465.592" stroke="#b00c30" stroke-width="0.9" />
<circle cx="455.00" cy="429.52" r="1.75" fill="#b00c30"/>
<circle cx="455.00" cy="450.04" r="1.75" fill="#b00c30"/>
<circle cx="455.00" cy="464.73" r="1.75" fill="#b00c30"/>
<circle cx="455.00" cy="468.62" r="1.75" fill="#b00c30"/>
<circle cx="455.00" cy="472.72" r="1.75" fill="#b00c30"/>
<line x1="371.5" y1="399.5" x2="371.5" y2="474.3" stroke="#2e2e2e" stroke-width="1.2" />
<line x1="368.8" y1="473.8" x2="462.8" y2="473.8" stroke="#2e2e2e" stroke-width="1.2" />
<line x1="368.7" y1="473.8" x2="371.5" y2="473.8" stroke="#2e2e2e" stroke-width="1.0" />
<text x="364.9" y="476.1" font-size="7.7" text-anchor="end" font-weight="normal" fill="#222" stroke="#222" stroke-width="0.15">0</text>
<line x1="368.7" y1="459.40000000000003" x2="371.5" y2="459.40000000000003" stroke="#2e2e2e" stroke-width="1.0" />
<text x="364.9" y="461.70000000000005" font-size="7.7" text-anchor="end" font-weight="normal" fill="#222" stroke="#222" stroke-width="0.15">20</text>
<line x1="368.7" y1="445.0" x2="371.5" y2="445.0" stroke="#2e2e2e" stroke-width="1.0" />
<text x="364.9" y="447.3" font-size="7.7" text-anchor="end" font-weight="normal" fill="#222" stroke="#222" stroke-width="0.15">40</text>
<line x1="368.7" y1="430.6" x2="371.5" y2="430.6" stroke="#2e2e2e" stroke-width="1.0" />
<text x="364.9" y="432.90000000000003" font-size="7.7" text-anchor="end" font-weight="normal" fill="#222" stroke="#222" stroke-width="0.15">60</text>
<line x1="368.7" y1="416.20000000000005" x2="371.5" y2="416.20000000000005" stroke="#2e2e2e" stroke-width="1.0" />
<text x="364.9" y="418.50000000000006" font-size="7.7" text-anchor="end" font-weight="normal" fill="#222" stroke="#222" stroke-width="0.15">80</text>
<line x1="368.7" y1="401.8" x2="371.5" y2="401.8" stroke="#2e2e2e" stroke-width="1.0" />
<text x="364.9" y="404.1" font-size="7.7" text-anchor="end" font-weight="normal" fill="#222" stroke="#222" stroke-width="0.15">100</text>
<line x1="385.6" y1="473.8" x2="385.6" y2="476.6" stroke="#2e2e2e" stroke-width="1.0" />
<text x="387.80" y="483.60" font-size="7.8" text-anchor="end" fill="#2a2a2a" stroke="#2a2a2a" stroke-width="0.22" transform="rotate(-45 387.80 483.60)">GMP</text>
<line x1="417.4" y1="473.8" x2="417.4" y2="476.6" stroke="#2e2e2e" stroke-width="1.0" />
<text x="419.60" y="483.60" font-size="7.8" text-anchor="end" fill="#2a2a2a" stroke="#2a2a2a" stroke-width="0.22" transform="rotate(-45 419.60 483.60)">CMP</text>
<line x1="449.4" y1="473.8" x2="449.4" y2="476.6" stroke="#2e2e2e" stroke-width="1.0" />
<text x="451.60" y="483.60" font-size="7.8" text-anchor="end" fill="#2a2a2a" stroke="#2a2a2a" stroke-width="0.22" transform="rotate(-45 451.60 483.60)">MEP</text>
<text x="346" y="436.6" font-size="9.2" text-anchor="middle" fill="#2a2a2a" textLength="75.2" lengthAdjust="spacingAndGlyphs" transform="rotate(-90 346 436.6)">Glycolytic capacity (%)</text>
<circle cx="471.40" cy="431.90" r="1.7" fill="#14325e"/>
<circle cx="471.40" cy="443.30" r="1.7" fill="#b00c30"/>
<text x="476.4" y="433.6" font-size="8.2" text-anchor="start" font-weight="normal" fill="#333" textLength="24.4" lengthAdjust="spacingAndGlyphs" >Vehicle</text>
<text x="476.9" y="445.1" font-size="8.2" text-anchor="start" font-weight="normal" fill="#333" textLength="31.7" lengthAdjust="spacingAndGlyphs" >TKI day 2</text>
<text x="323.3" y="385.8" font-size="11.7" text-anchor="start" font-weight="bold" fill="#111" stroke="#111" stroke-width="0.45">H</text>
<rect x="60.10" y="552.20" width="7.40" height="61.60" fill="#8a99c2" />
<rect x="72.10" y="564.99" width="7.40" height="48.81" fill="#e8897c" />
<rect x="91.80" y="567.20" width="7.40" height="46.60" fill="#8a99c2" />
<rect x="103.80" y="582.80" width="7.40" height="31.00" fill="#e8897c" />
<rect x="123.50" y="575.50" width="7.40" height="38.30" fill="#8a99c2" />
<rect x="135.50" y="573.71" width="7.40" height="40.09" fill="#e8897c" />
<line x1="63.8" y1="554.5957999999999" x2="63.8" y2="549.8086" stroke="#14325e" stroke-width="0.9" />
<line x1="62.0" y1="549.8086" x2="65.6" y2="549.8086" stroke="#14325e" stroke-width="0.9" />
<line x1="62.0" y1="554.5957999999999" x2="65.6" y2="554.5957999999999" stroke="#14325e" stroke-width="0.9" />
<circle cx="61.30" cy="543.90" r="1.75" fill="#14325e"/>
<circle cx="64.00" cy="547.21" r="1.75" fill="#14325e"/>
<circle cx="61.60" cy="553.10" r="1.75" fill="#14325e"/>
<circle cx="64.20" cy="553.70" r="1.75" fill="#14325e"/>
<circle cx="66.60" cy="553.70" r="1.75" fill="#14325e"/>
<circle cx="64.00" cy="551.53" r="1.75" fill="#14325e"/>
<line x1="75.8" y1="567.6858" x2="75.8" y2="562.3001999999999" stroke="#b00c30" stroke-width="0.9" />
<line x1="74.0" y1="562.3001999999999" x2="77.6" y2="562.3001999999999" stroke="#b00c30" stroke-width="0.9" />
<line x1="74.0" y1="567.6858" x2="77.6" y2="567.6858" stroke="#b00c30" stroke-width="0.9" />
<circle cx="75.40" cy="554.00" r="1.75" fill="#b00c30"/>
<circle cx="73.20" cy="563.01" r="1.75" fill="#b00c30"/>
<circle cx="77.70" cy="563.50" r="1.75" fill="#b00c30"/>
<circle cx="74.80" cy="565.40" r="1.75" fill="#b00c30"/>
<circle cx="73.50" cy="567.61" r="1.75" fill="#b00c30"/>
<circle cx="77.70" cy="568.17" r="1.75" fill="#b00c30"/>
<circle cx="75.40" cy="575.50" r="1.75" fill="#b00c30"/>
<line x1="95.5" y1="570.7525999999999" x2="95.5" y2="563.6465999999999" stroke="#14325e" stroke-width="0.9" />
<line x1="93.7" y1="563.6465999999999" x2="97.3" y2="563.6465999999999" stroke="#14325e" stroke-width="0.9" />
<line x1="93.7" y1="570.7525999999999" x2="97.3" y2="570.7525999999999" stroke="#14325e" stroke-width="0.9" />
<circle cx="93.00" cy="559.70" r="1.75" fill="#14325e"/>
<circle cx="97.90" cy="559.70" r="1.75" fill="#14325e"/>
<circle cx="95.20" cy="564.60" r="1.75" fill="#14325e"/>
<circle cx="95.20" cy="570.19" r="1.75" fill="#14325e"/>
<circle cx="95.20" cy="576.79" r="1.75" fill="#14325e"/>
<line x1="107.5" y1="588.7981" x2="107.5" y2="576.7927" stroke="#b00c30" stroke-width="0.9" />
<line x1="105.7" y1="576.7927" x2="109.3" y2="576.7927" stroke="#b00c30" stroke-width="0.9" />
<line x1="105.7" y1="588.7981" x2="109.3" y2="588.7981" stroke="#b00c30" stroke-width="0.9" />
<circle cx="107.50" cy="563.01" r="1.75" fill="#b00c30"/>
<circle cx="107.50" cy="576.79" r="1.75" fill="#b00c30"/>
<circle cx="106.20" cy="585.39" r="1.75" fill="#b00c30"/>
<circle cx="109.10" cy="586.68" r="1.75" fill="#b00c30"/>
<circle cx="104.90" cy="588.70" r="1.75" fill="#b00c30"/>
<circle cx="109.70" cy="587.99" r="1.75" fill="#b00c30"/>
<line x1="127.19999999999999" y1="579.5976999999999" x2="127.19999999999999" y2="571.4070999999999" stroke="#14325e" stroke-width="0.9" />
<line x1="125.39999999999999" y1="571.4070999999999" x2="129.0" y2="571.4070999999999" stroke="#14325e" stroke-width="0.9" />
<line x1="125.39999999999999" y1="579.5976999999999" x2="129.0" y2="579.5976999999999" stroke="#14325e" stroke-width="0.9" />
<circle cx="127.20" cy="561.50" r="1.75" fill="#14325e"/>
<circle cx="124.50" cy="577.80" r="1.75" fill="#14325e"/>
<circle cx="127.20" cy="577.15" r="1.75" fill="#14325e"/>
<circle cx="129.90" cy="577.80" r="1.75" fill="#14325e"/>
<circle cx="127.20" cy="578.36" r="1.75" fill="#14325e"/>
<line x1="139.2" y1="577.709" x2="139.2" y2="569.7053999999999" stroke="#b00c30" stroke-width="0.9" />
<line x1="137.39999999999998" y1="569.7053999999999" x2="141.0" y2="569.7053999999999" stroke="#b00c30" stroke-width="0.9" />
<line x1="137.39999999999998" y1="577.709" x2="141.0" y2="577.709" stroke="#b00c30" stroke-width="0.9" />
<circle cx="138.80" cy="559.79" r="1.75" fill="#b00c30"/>
<circle cx="136.50" cy="568.51" r="1.75" fill="#b00c30"/>
<circle cx="141.50" cy="568.51" r="1.75" fill="#b00c30"/>
<circle cx="138.80" cy="576.01" r="1.75" fill="#b00c30"/>
<circle cx="136.50" cy="580.10" r="1.75" fill="#b00c30"/>
<circle cx="141.50" cy="580.10" r="1.75" fill="#b00c30"/>
<line x1="54.5" y1="536.5" x2="54.5" y2="614.3" stroke="#2e2e2e" stroke-width="1.2" />
<line x1="51.8" y1="613.8" x2="146.9" y2="613.8" stroke="#2e2e2e" stroke-width="1.2" />
<line x1="51.7" y1="613.8" x2="54.5" y2="613.8" stroke="#2e2e2e" stroke-width="1.0" />
<text x="47.9" y="616.0999999999999" font-size="7.7" text-anchor="end" font-weight="normal" fill="#222" stroke="#222" stroke-width="0.15">0</text>
<line x1="51.7" y1="595.0999999999999" x2="54.5" y2="595.0999999999999" stroke="#2e2e2e" stroke-width="1.0" />
<text x="47.9" y="597.3999999999999" font-size="7.7" text-anchor="end" font-weight="normal" fill="#222" stroke="#222" stroke-width="0.15">1000</text>
<line x1="51.7" y1="576.4" x2="54.5" y2="576.4" stroke="#2e2e2e" stroke-width="1.0" />
<text x="47.9" y="578.6999999999999" font-size="7.7" text-anchor="end" font-weight="normal" fill="#222" stroke="#222" stroke-width="0.15">2000</text>
<line x1="51.7" y1="557.6999999999999" x2="54.5" y2="557.6999999999999" stroke="#2e2e2e" stroke-width="1.0" />
<text x="47.9" y="559.9999999999999" font-size="7.7" text-anchor="end" font-weight="normal" fill="#222" stroke="#222" stroke-width="0.15">3000</text>
<line x1="51.7" y1="539.0" x2="54.5" y2="539.0" stroke="#2e2e2e" stroke-width="1.0" />
<text x="47.9" y="541.3" font-size="7.7" text-anchor="end" font-weight="normal" fill="#222" stroke="#222" stroke-width="0.15">4000</text>
<line x1="69.8" y1="613.8" x2="69.8" y2="616.5999999999999" stroke="#2e2e2e" stroke-width="1.0" />
<text x="72.00" y="623.60" font-size="7.8" text-anchor="end" fill="#2a2a2a" stroke="#2a2a2a" stroke-width="0.22" transform="rotate(-45 72.00 623.60)">GMP</text>
<line x1="101.5" y1="613.8" x2="101.5" y2="616.5999999999999" stroke="#2e2e2e" stroke-width="1.0" />
<text x="103.70" y="623.60" font-size="7.8" text-anchor="end" fill="#2a2a2a" stroke="#2a2a2a" stroke-width="0.22" transform="rotate(-45 103.70 623.60)">CMP</text>
<line x1="133.2" y1="613.8" x2="133.2" y2="616.5999999999999" stroke="#2e2e2e" stroke-width="1.0" />
<text x="135.40" y="623.60" font-size="7.8" text-anchor="end" fill="#2a2a2a" stroke="#2a2a2a" stroke-width="0.22" transform="rotate(-45 135.40 623.60)">MEP</text>
<polyline points="63.6,540.3 63.6,535.5 75.4,535.5 75.4,549.8" fill="none" stroke="#555" stroke-width="0.7"/>
<text x="70.1" y="535.1" font-size="8.6" text-anchor="middle" font-weight="normal" fill="#333" letter-spacing="0.45" stroke="#333" stroke-width="0.3">*</text>
<polyline points="95.2,555.1 95.2,535.5 107.5,535.5 107.5,558.4" fill="none" stroke="#555" stroke-width="0.7"/>
<text x="101.94999999999999" y="535.1" font-size="8.6" text-anchor="middle" font-weight="normal" fill="#333" letter-spacing="0.45" stroke="#333" stroke-width="0.3">*</text>
<text x="26.2" y="574.9" font-size="9.2" text-anchor="middle" fill="#2a2a2a" textLength="75.3" lengthAdjust="spacingAndGlyphs" transform="rotate(-90 26.2 574.9)">Translation (Puro MFI)</text>
<text x="7.6" y="523.0" font-size="11.7" text-anchor="start" font-weight="bold" fill="#111" stroke="#111" stroke-width="0.45">E</text>
<rect x="222.60" y="564.72" width="6.80" height="49.28" fill="#8a99c2" />
<rect x="234.60" y="557.22" width="6.80" height="56.78" fill="#e8897c" />
<rect x="253.45" y="567.02" width="6.80" height="46.98" fill="#8a99c2" />
<rect x="265.45" y="559.23" width="6.80" height="54.77" fill="#e8897c" />
<rect x="284.40" y="561.88" width="6.80" height="52.12" fill="#8a99c2" />
<rect x="296.40" y="561.53" width="6.80" height="52.47" fill="#e8897c" />
<line x1="226.0" y1="572.0219999999999" x2="226.0" y2="557.427" stroke="#14325e" stroke-width="0.9" />
<line x1="224.2" y1="557.427" x2="227.8" y2="557.427" stroke="#14325e" stroke-width="0.9" />
<line x1="224.2" y1="572.0219999999999" x2="227.8" y2="572.0219999999999" stroke="#14325e" stroke-width="0.9" />
<circle cx="226.20" cy="549.09" r="1.75" fill="#14325e"/>
<circle cx="226.20" cy="552.63" r="1.75" fill="#14325e"/>
<circle cx="226.20" cy="558.40" r="1.75" fill="#14325e"/>
<circle cx="226.20" cy="574.87" r="1.75" fill="#14325e"/>
<circle cx="226.20" cy="583.28" r="1.75" fill="#14325e"/>
<line x1="238.0" y1="563.404" x2="238.0" y2="551.033" stroke="#b00c30" stroke-width="0.9" />
<line x1="236.2" y1="551.033" x2="239.8" y2="551.033" stroke="#b00c30" stroke-width="0.9" />
<line x1="236.2" y1="563.404" x2="239.8" y2="563.404" stroke="#b00c30" stroke-width="0.9" />
<circle cx="235.30" cy="544.92" r="1.75" fill="#b00c30"/>
<circle cx="240.20" cy="546.03" r="1.75" fill="#b00c30"/>
<circle cx="237.40" cy="554.51" r="1.75" fill="#b00c30"/>
<circle cx="237.40" cy="561.53" r="1.75" fill="#b00c30"/>
<circle cx="237.40" cy="571.61" r="1.75" fill="#b00c30"/>
<line x1="256.85" y1="570.493" x2="256.85" y2="563.543" stroke="#14325e" stroke-width="0.9" />
<line x1="255.05" y1="563.543" x2="258.65000000000003" y2="563.543" stroke="#14325e" stroke-width="0.9" />
<line x1="255.05" y1="570.493" x2="258.65000000000003" y2="570.493" stroke="#14325e" stroke-width="0.9" />
<circle cx="256.80" cy="554.23" r="1.75" fill="#14325e"/>
<circle cx="256.80" cy="560.28" r="1.75" fill="#14325e"/>
<circle cx="256.80" cy="563.82" r="1.75" fill="#14325e"/>
<circle cx="256.80" cy="568.48" r="1.75" fill="#14325e"/>
<circle cx="256.80" cy="583.00" r="1.75" fill="#14325e"/>
<line x1="268.85" y1="564.7245" x2="268.85" y2="553.7435" stroke="#b00c30" stroke-width="0.9" />
<line x1="267.05" y1="553.7435" x2="270.65000000000003" y2="553.7435" stroke="#b00c30" stroke-width="0.9" />
<line x1="267.05" y1="564.7245" x2="270.65000000000003" y2="564.7245" stroke="#b00c30" stroke-width="0.9" />
<circle cx="266.10" cy="551.45" r="1.75" fill="#b00c30"/>
<circle cx="270.70" cy="548.39" r="1.75" fill="#b00c30"/>
<circle cx="268.40" cy="563.82" r="1.75" fill="#b00c30"/>
<circle cx="268.40" cy="567.92" r="1.75" fill="#b00c30"/>
<circle cx="268.40" cy="565.35" r="1.75" fill="#b00c30"/>
<line x1="287.8" y1="570.076" x2="287.8" y2="553.674" stroke="#14325e" stroke-width="0.9" />
<line x1="286.0" y1="553.674" x2="289.6" y2="553.674" stroke="#14325e" stroke-width="0.9" />
<line x1="286.0" y1="570.076" x2="289.6" y2="570.076" stroke="#14325e" stroke-width="0.9" />
<circle cx="287.80" cy="544.92" r="1.75" fill="#14325e"/>
<circle cx="285.50" cy="549.50" r="1.75" fill="#14325e"/>
<circle cx="290.10" cy="549.09" r="1.75" fill="#14325e"/>
<circle cx="287.80" cy="569.73" r="1.75" fill="#14325e"/>
<circle cx="287.80" cy="577.79" r="1.75" fill="#14325e"/>
<circle cx="287.80" cy="585.57" r="1.75" fill="#14325e"/>
<line x1="299.8" y1="570.076" x2="299.8" y2="552.979" stroke="#b00c30" stroke-width="0.9" />
<line x1="298.0" y1="552.979" x2="301.6" y2="552.979" stroke="#b00c30" stroke-width="0.9" />
<line x1="298.0" y1="570.076" x2="301.6" y2="570.076" stroke="#b00c30" stroke-width="0.9" />
<circle cx="299.20" cy="546.03" r="1.75" fill="#b00c30"/>
<circle cx="299.20" cy="549.50" r="1.75" fill="#b00c30"/>
<circle cx="299.20" cy="552.98" r="1.75" fill="#b00c30"/>
<circle cx="299.20" cy="567.71" r="1.75" fill="#b00c30"/>
<circle cx="299.20" cy="587.73" r="1.75" fill="#b00c30"/>
<line x1="218.2" y1="542.5" x2="218.2" y2="614.5" stroke="#2e2e2e" stroke-width="1.2" />
<line x1="215.5" y1="614.0" x2="307.1" y2="614.0" stroke="#2e2e2e" stroke-width="1.2" />
<line x1="215.39999999999998" y1="614.0" x2="218.2" y2="614.0" stroke="#2e2e2e" stroke-width="1.0" />
<text x="211.6" y="616.3" font-size="7.7" text-anchor="end" font-weight="normal" fill="#222" stroke="#222" stroke-width="0.15">0</text>
<line x1="215.39999999999998" y1="600.1" x2="218.2" y2="600.1" stroke="#2e2e2e" stroke-width="1.0" />
<text x="211.6" y="602.4" font-size="7.7" text-anchor="end" font-weight="normal" fill="#222" stroke="#222" stroke-width="0.15">20</text>
<line x1="215.39999999999998" y1="586.2" x2="218.2" y2="586.2" stroke="#2e2e2e" stroke-width="1.0" />
<text x="211.6" y="588.5" font-size="7.7" text-anchor="end" font-weight="normal" fill="#222" stroke="#222" stroke-width="0.15">40</text>
<line x1="215.39999999999998" y1="572.3" x2="218.2" y2="572.3" stroke="#2e2e2e" stroke-width="1.0" />
<text x="211.6" y="574.5999999999999" font-size="7.7" text-anchor="end" font-weight="normal" fill="#222" stroke="#222" stroke-width="0.15">60</text>
<line x1="215.39999999999998" y1="558.4" x2="218.2" y2="558.4" stroke="#2e2e2e" stroke-width="1.0" />
<text x="211.6" y="560.6999999999999" font-size="7.7" text-anchor="end" font-weight="normal" fill="#222" stroke="#222" stroke-width="0.15">80</text>
<line x1="215.39999999999998" y1="544.5" x2="218.2" y2="544.5" stroke="#2e2e2e" stroke-width="1.0" />
<text x="211.6" y="546.8" font-size="7.7" text-anchor="end" font-weight="normal" fill="#222" stroke="#222" stroke-width="0.15">100</text>
<line x1="232.0" y1="614.0" x2="232.0" y2="616.8" stroke="#2e2e2e" stroke-width="1.0" />
<text x="234.20" y="623.80" font-size="7.8" text-anchor="end" fill="#2a2a2a" stroke="#2a2a2a" stroke-width="0.22" transform="rotate(-45 234.20 623.80)">GMP</text>
<line x1="262.85" y1="614.0" x2="262.85" y2="616.8" stroke="#2e2e2e" stroke-width="1.0" />
<text x="265.05" y="623.80" font-size="7.8" text-anchor="end" fill="#2a2a2a" stroke="#2a2a2a" stroke-width="0.22" transform="rotate(-45 265.05 623.80)">CMP</text>
<line x1="293.8" y1="614.0" x2="293.8" y2="616.8" stroke="#2e2e2e" stroke-width="1.0" />
<text x="296.00" y="623.80" font-size="7.8" text-anchor="end" fill="#2a2a2a" stroke="#2a2a2a" stroke-width="0.22" transform="rotate(-45 296.00 623.80)">MEP</text>
<text x="181.8" y="578" font-size="9.5" text-anchor="middle" fill="#2a2a2a" textLength="48" lengthAdjust="spacingAndGlyphs" transform="rotate(-90 181.8 578)">Mitochondrial</text>
<text x="192.0" y="577.8" font-size="9.5" text-anchor="middle" fill="#2a2a2a" textLength="55.3" lengthAdjust="spacingAndGlyphs" transform="rotate(-90 192.0 577.8)">dependence (%)</text>
<text x="163.3" y="523.0" font-size="11.7" text-anchor="start" font-weight="bold" fill="#111" stroke="#111" stroke-width="0.45">F</text>
<rect x="375.70" y="605.01" width="7.20" height="8.99" fill="#8a99c2" />
<rect x="387.70" y="609.00" width="7.20" height="5.00" fill="#e8897c" />
<rect x="408.10" y="591.16" width="7.20" height="22.84" fill="#8a99c2" />
<rect x="420.10" y="591.16" width="7.20" height="22.84" fill="#e8897c" />
<rect x="439.90" y="578.04" width="7.20" height="35.96" fill="#8a99c2" />
<rect x="451.90" y="611.61" width="7.20" height="2.39" fill="#e8897c" />
<line x1="379.3" y1="610.23" x2="379.3" y2="599.79" stroke="#14325e" stroke-width="0.9" />
<line x1="377.5" y1="599.79" x2="381.1" y2="599.79" stroke="#14325e" stroke-width="0.9" />
<line x1="377.5" y1="610.23" x2="381.1" y2="610.23" stroke="#14325e" stroke-width="0.9" />
<circle cx="379.50" cy="592.11" r="1.75" fill="#14325e"/>
<circle cx="379.50" cy="596.02" r="1.75" fill="#14325e"/>
<circle cx="377.20" cy="609.58" r="1.75" fill="#14325e"/>
<circle cx="382.20" cy="610.16" r="1.75" fill="#14325e"/>
<circle cx="379.50" cy="608.92" r="1.75" fill="#14325e"/>
<circle cx="379.50" cy="612.40" r="1.75" fill="#14325e"/>
<line x1="391.3" y1="611.245" x2="391.3" y2="606.75" stroke="#b00c30" stroke-width="0.9" />
<line x1="389.5" y1="606.75" x2="393.1" y2="606.75" stroke="#b00c30" stroke-width="0.9" />
<line x1="389.5" y1="611.245" x2="393.1" y2="611.245" stroke="#b00c30" stroke-width="0.9" />
<circle cx="389.10" cy="601.53" r="1.75" fill="#b00c30"/>
<circle cx="394.20" cy="604.07" r="1.75" fill="#b00c30"/>
<circle cx="389.10" cy="606.75" r="1.75" fill="#b00c30"/>
<circle cx="391.60" cy="611.90" r="1.75" fill="#b00c30"/>
<circle cx="389.10" cy="613.06" r="1.75" fill="#b00c30"/>
<line x1="411.7" y1="594.6425" x2="411.7" y2="587.6825" stroke="#14325e" stroke-width="0.9" />
<line x1="409.9" y1="587.6825" x2="413.5" y2="587.6825" stroke="#14325e" stroke-width="0.9" />
<line x1="409.9" y1="594.6425" x2="413.5" y2="594.6425" stroke="#14325e" stroke-width="0.9" />
<circle cx="411.50" cy="581.66" r="1.75" fill="#14325e"/>
<circle cx="409.20" cy="591.67" r="1.75" fill="#14325e"/>
<circle cx="414.10" cy="592.90" r="1.75" fill="#14325e"/>
<circle cx="411.50" cy="596.89" r="1.75" fill="#14325e"/>
<circle cx="411.50" cy="591.16" r="1.75" fill="#14325e"/>
<line x1="423.7" y1="598.63" x2="423.7" y2="583.695" stroke="#b00c30" stroke-width="0.9" />
<line x1="421.9" y1="583.695" x2="425.5" y2="583.695" stroke="#b00c30" stroke-width="0.9" />
<line x1="421.9" y1="598.63" x2="425.5" y2="598.63" stroke="#b00c30" stroke-width="0.9" />
<circle cx="423.30" cy="577.10" r="1.75" fill="#b00c30"/>
<circle cx="421.00" cy="586.52" r="1.75" fill="#b00c30"/>
<circle cx="426.00" cy="588.77" r="1.75" fill="#b00c30"/>
<circle cx="423.30" cy="596.67" r="1.75" fill="#b00c30"/>
<circle cx="423.30" cy="610.16" r="1.75" fill="#b00c30"/>
<line x1="443.5" y1="584.855" x2="443.5" y2="571.225" stroke="#14325e" stroke-width="0.9" />
<line x1="441.7" y1="571.225" x2="445.3" y2="571.225" stroke="#14325e" stroke-width="0.9" />
<line x1="441.7" y1="584.855" x2="445.3" y2="584.855" stroke="#14325e" stroke-width="0.9" />
<circle cx="443.60" cy="564.34" r="1.75" fill="#14325e"/>
<circle cx="441.00" cy="574.20" r="1.75" fill="#14325e"/>
<circle cx="446.10" cy="576.37" r="1.75" fill="#14325e"/>
<circle cx="443.60" cy="593.48" r="1.75" fill="#14325e"/>
<line x1="455.5" y1="614.0" x2="455.5" y2="608.7075" stroke="#b00c30" stroke-width="0.9" />
<line x1="453.7" y1="608.7075" x2="457.3" y2="608.7075" stroke="#b00c30" stroke-width="0.9" />
<circle cx="455.30" cy="601.67" r="1.75" fill="#b00c30"/>
<circle cx="455.30" cy="608.92" r="1.75" fill="#b00c30"/>
<circle cx="453.50" cy="612.70" r="1.75" fill="#b00c30"/>
<circle cx="457.10" cy="612.70" r="1.75" fill="#b00c30"/>
<circle cx="455.30" cy="613.78" r="1.75" fill="#b00c30"/>
<line x1="371.5" y1="539.5" x2="371.5" y2="614.5" stroke="#2e2e2e" stroke-width="1.2" />
<line x1="368.8" y1="614.0" x2="462.8" y2="614.0" stroke="#2e2e2e" stroke-width="1.2" />
<line x1="368.7" y1="614.0" x2="371.5" y2="614.0" stroke="#2e2e2e" stroke-width="1.0" />
<text x="364.9" y="616.3" font-size="7.7" text-anchor="end" font-weight="normal" fill="#222" stroke="#222" stroke-width="0.15">0</text>
<line x1="368.7" y1="599.5" x2="371.5" y2="599.5" stroke="#2e2e2e" stroke-width="1.0" />
<text x="364.9" y="601.8" font-size="7.7" text-anchor="end" font-weight="normal" fill="#222" stroke="#222" stroke-width="0.15">20</text>
<line x1="368.7" y1="585.0" x2="371.5" y2="585.0" stroke="#2e2e2e" stroke-width="1.0" />
<text x="364.9" y="587.3" font-size="7.7" text-anchor="end" font-weight="normal" fill="#222" stroke="#222" stroke-width="0.15">40</text>
<line x1="368.7" y1="570.5" x2="371.5" y2="570.5" stroke="#2e2e2e" stroke-width="1.0" />
<text x="364.9" y="572.8" font-size="7.7" text-anchor="end" font-weight="normal" fill="#222" stroke="#222" stroke-width="0.15">60</text>
<line x1="368.7" y1="556.0" x2="371.5" y2="556.0" stroke="#2e2e2e" stroke-width="1.0" />
<text x="364.9" y="558.3" font-size="7.7" text-anchor="end" font-weight="normal" fill="#222" stroke="#222" stroke-width="0.15">80</text>
<line x1="368.7" y1="541.5" x2="371.5" y2="541.5" stroke="#2e2e2e" stroke-width="1.0" />
<text x="364.9" y="543.8" font-size="7.7" text-anchor="end" font-weight="normal" fill="#222" stroke="#222" stroke-width="0.15">100</text>
<line x1="385.3" y1="614.0" x2="385.3" y2="616.8" stroke="#2e2e2e" stroke-width="1.0" />
<text x="387.50" y="623.80" font-size="7.8" text-anchor="end" fill="#2a2a2a" stroke="#2a2a2a" stroke-width="0.22" transform="rotate(-45 387.50 623.80)">GMP</text>
<line x1="417.7" y1="614.0" x2="417.7" y2="616.8" stroke="#2e2e2e" stroke-width="1.0" />
<text x="419.90" y="623.80" font-size="7.8" text-anchor="end" fill="#2a2a2a" stroke="#2a2a2a" stroke-width="0.22" transform="rotate(-45 419.90 623.80)">CMP</text>
<line x1="449.5" y1="614.0" x2="449.5" y2="616.8" stroke="#2e2e2e" stroke-width="1.0" />
<text x="451.70" y="623.80" font-size="7.8" text-anchor="end" fill="#2a2a2a" stroke="#2a2a2a" stroke-width="0.22" transform="rotate(-45 451.70 623.80)">MEP</text>
<polyline points="443.2,559.3 443.2,555.5 455.3,555.5 455.3,597.9" fill="none" stroke="#555" stroke-width="0.7"/>
<text x="449.85" y="555.1" font-size="8.6" text-anchor="middle" font-weight="normal" fill="#333" letter-spacing="0.45" stroke="#333" stroke-width="0.3">****</text>
<text x="346" y="577.2" font-size="9.2" text-anchor="middle" fill="#2a2a2a" textLength="75.2" lengthAdjust="spacingAndGlyphs" transform="rotate(-90 346 577.2)">Glycolytic capacity (%)</text>
<circle cx="471.40" cy="570.50" r="1.7" fill="#14325e"/>
<circle cx="471.40" cy="581.70" r="1.7" fill="#b00c30"/>
<text x="476.4" y="572.6" font-size="8.2" text-anchor="start" font-weight="normal" fill="#333" textLength="23.9" lengthAdjust="spacingAndGlyphs" >Vehicle</text>
<text x="476.9" y="584.0" font-size="8.2" text-anchor="start" font-weight="normal" fill="#333" textLength="35.8" lengthAdjust="spacingAndGlyphs" >TKI day 14</text>
<text x="323.3" y="523.0" font-size="11.7" text-anchor="start" font-weight="bold" fill="#111" stroke="#111" stroke-width="0.45">I</text>
<rect x="0.5" y="0.5" width="519" height="644" fill="none" stroke="#5a5a5a" stroke-width="1"/>
</svg>
</body></html>
